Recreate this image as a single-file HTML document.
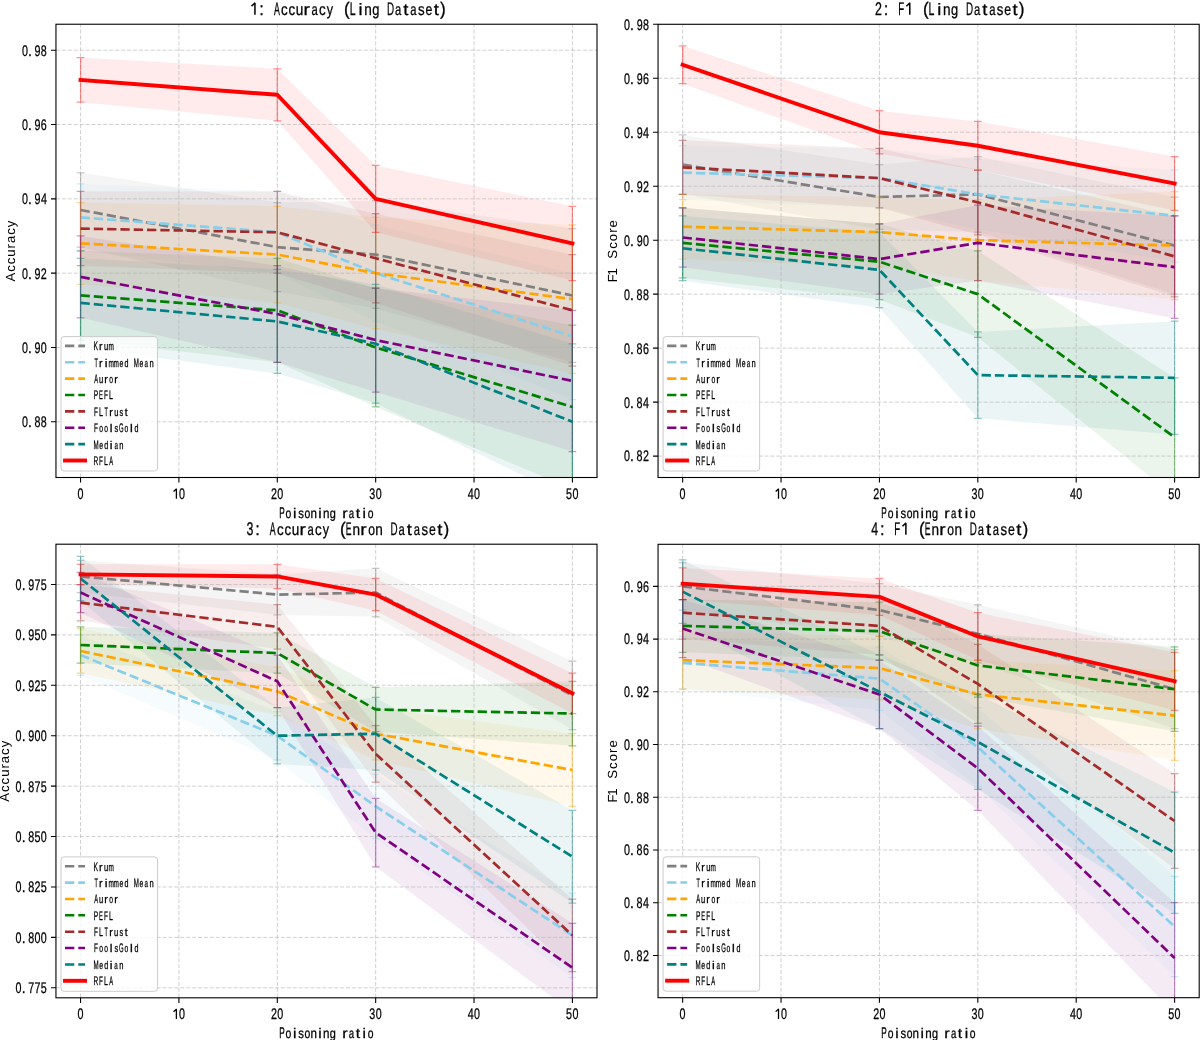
<!DOCTYPE html>
<html><head><meta charset="utf-8"><title>chart</title>
<style>
html,body{margin:0;padding:0;background:#fff;}
svg{display:block;will-change:transform;}
text{font-family:"Liberation Sans",sans-serif;text-rendering:geometricPrecision;}
g.t text{fill:#000;stroke:#000;stroke-width:0.28px;} g.t path{stroke:#000;} tspan.hid{fill:none;stroke:none;}
g.yl text{fill:#000;}
</style></head><body>
<svg width="1200" height="1040" viewBox="0 0 1200 1040">
<rect width="1200" height="1040" fill="#fff"/>
<defs><clipPath id="c1"><rect x="55.96" y="24.23" width="541.04" height="453.27"/></clipPath><clipPath id="c2"><rect x="658.05" y="24.28" width="541.15" height="453.22"/></clipPath><clipPath id="c3"><rect x="55.95" y="544.20" width="541.05" height="453.60"/></clipPath><clipPath id="c4"><rect x="658.05" y="544.30" width="541.15" height="453.40"/></clipPath></defs>
<g clip-path="url(#c1)">
<polygon points="80.55,172.82 277.29,202.55 375.67,200.69 572.41,228.56 572.41,362.34 375.67,308.46 277.29,291.74 80.55,247.14" fill="#808080" fill-opacity="0.080"/>
<polygon points="80.55,183.97 277.29,191.40 375.67,224.85 572.41,273.16 572.41,399.50 375.67,321.47 277.29,273.16 80.55,250.86" fill="#87CEEB" fill-opacity="0.080"/>
<polygon points="80.55,202.55 277.29,206.27 375.67,217.41 572.41,224.85 572.41,373.49 375.67,328.90 277.29,302.88 80.55,284.30" fill="#FFA500" fill-opacity="0.080"/>
<polygon points="80.55,250.86 277.29,258.29 375.67,288.02 572.41,325.18 572.41,488.69 375.67,406.94 277.29,362.34 80.55,340.05" fill="#008000" fill-opacity="0.080"/>
<polygon points="80.55,191.40 277.29,191.40 375.67,213.70 572.41,254.58 572.41,366.06 375.67,302.88 277.29,273.16 80.55,265.72" fill="#A52A2A" fill-opacity="0.080"/>
<polygon points="80.55,235.99 277.29,265.72 375.67,288.02 572.41,310.32 572.41,451.53 375.67,392.07 277.29,362.34 80.55,317.75" fill="#800080" fill-opacity="0.080"/>
<polygon points="80.55,258.29 277.29,269.44 375.67,284.30 572.41,343.76 572.41,499.84 375.67,403.22 277.29,373.49 80.55,347.48" fill="#008080" fill-opacity="0.080"/>
<polygon points="80.55,57.62 277.29,68.77 375.67,165.39 572.41,206.27 572.41,280.59 375.67,232.28 277.29,120.80 80.55,102.22" fill="#FF0000" fill-opacity="0.080"/>
<path d="M80.55 477.50V24.23M178.92 477.50V24.23M277.29 477.50V24.23M375.67 477.50V24.23M474.04 477.50V24.23M572.41 477.50V24.23M55.96 421.80H597.00M55.96 347.48H597.00M55.96 273.16H597.00M55.96 198.83H597.00M55.96 124.51H597.00M55.96 50.19H597.00" stroke="#b0b0b0" stroke-opacity="0.6" stroke-width="1" stroke-dasharray="4.0 1.92" fill="none"/>
<path d="M80.55 172.82V247.14M76.70 172.82H84.40M76.70 247.14H84.40M277.29 202.55V291.74M273.44 202.55H281.14M273.44 291.74H281.14M375.67 200.69V308.46M371.82 200.69H379.52M371.82 308.46H379.52M572.41 228.56V362.34M568.56 228.56H576.26M568.56 362.34H576.26" stroke="#808080" stroke-opacity="0.42" stroke-width="1.25" fill="none"/>
<polyline points="80.55,209.98 277.29,247.14 375.67,254.58 572.41,295.45" stroke="#808080" stroke-width="2.7" fill="none" stroke-linejoin="round" stroke-dasharray="9.3 4.0"/>
<path d="M80.55 183.97V250.86M76.70 183.97H84.40M76.70 250.86H84.40M277.29 191.40V273.16M273.44 191.40H281.14M273.44 273.16H281.14M375.67 224.85V321.47M371.82 224.85H379.52M371.82 321.47H379.52M572.41 273.16V399.50M568.56 273.16H576.26M568.56 399.50H576.26" stroke="#87CEEB" stroke-opacity="0.42" stroke-width="1.25" fill="none"/>
<polyline points="80.55,217.41 277.29,232.28 375.67,273.16 572.41,336.33" stroke="#87CEEB" stroke-width="2.7" fill="none" stroke-linejoin="round" stroke-dasharray="9.3 4.0"/>
<path d="M80.55 202.55V284.30M76.70 202.55H84.40M76.70 284.30H84.40M277.29 206.27V302.88M273.44 206.27H281.14M273.44 302.88H281.14M375.67 217.41V328.90M371.82 217.41H379.52M371.82 328.90H379.52M572.41 224.85V373.49M568.56 224.85H576.26M568.56 373.49H576.26" stroke="#FFA500" stroke-opacity="0.42" stroke-width="1.25" fill="none"/>
<polyline points="80.55,243.43 277.29,254.58 375.67,273.16 572.41,299.17" stroke="#FFA500" stroke-width="2.7" fill="none" stroke-linejoin="round" stroke-dasharray="9.3 4.0"/>
<path d="M80.55 250.86V340.05M76.70 250.86H84.40M76.70 340.05H84.40M277.29 258.29V362.34M273.44 258.29H281.14M273.44 362.34H281.14M375.67 288.02V406.94M371.82 288.02H379.52M371.82 406.94H379.52M572.41 325.18V488.69M568.56 325.18H576.26M568.56 488.69H576.26" stroke="#008000" stroke-opacity="0.42" stroke-width="1.25" fill="none"/>
<polyline points="80.55,295.45 277.29,310.32 375.67,347.48 572.41,406.94" stroke="#008000" stroke-width="2.7" fill="none" stroke-linejoin="round" stroke-dasharray="9.3 4.0"/>
<path d="M80.55 191.40V265.72M76.70 191.40H84.40M76.70 265.72H84.40M277.29 191.40V273.16M273.44 191.40H281.14M273.44 273.16H281.14M375.67 213.70V302.88M371.82 213.70H379.52M371.82 302.88H379.52M572.41 254.58V366.06M568.56 254.58H576.26M568.56 366.06H576.26" stroke="#A52A2A" stroke-opacity="0.42" stroke-width="1.25" fill="none"/>
<polyline points="80.55,228.56 277.29,232.28 375.67,258.29 572.41,310.32" stroke="#A52A2A" stroke-width="2.7" fill="none" stroke-linejoin="round" stroke-dasharray="9.3 4.0"/>
<path d="M80.55 235.99V317.75M76.70 235.99H84.40M76.70 317.75H84.40M277.29 265.72V362.34M273.44 265.72H281.14M273.44 362.34H281.14M375.67 288.02V392.07M371.82 288.02H379.52M371.82 392.07H379.52M572.41 310.32V451.53M568.56 310.32H576.26M568.56 451.53H576.26" stroke="#800080" stroke-opacity="0.42" stroke-width="1.25" fill="none"/>
<polyline points="80.55,276.87 277.29,314.03 375.67,340.05 572.41,380.92" stroke="#800080" stroke-width="2.7" fill="none" stroke-linejoin="round" stroke-dasharray="9.3 4.0"/>
<path d="M80.55 258.29V347.48M76.70 258.29H84.40M76.70 347.48H84.40M277.29 269.44V373.49M273.44 269.44H281.14M273.44 373.49H281.14M375.67 284.30V403.22M371.82 284.30H379.52M371.82 403.22H379.52M572.41 343.76V499.84M568.56 343.76H576.26M568.56 499.84H576.26" stroke="#008080" stroke-opacity="0.42" stroke-width="1.25" fill="none"/>
<polyline points="80.55,302.88 277.29,321.47 375.67,343.76 572.41,421.80" stroke="#008080" stroke-width="2.7" fill="none" stroke-linejoin="round" stroke-dasharray="9.3 4.0"/>
<path d="M80.55 57.62V102.22M76.70 57.62H84.40M76.70 102.22H84.40M277.29 68.77V120.80M273.44 68.77H281.14M273.44 120.80H281.14M375.67 165.39V232.28M371.82 165.39H379.52M371.82 232.28H379.52M572.41 206.27V280.59M568.56 206.27H576.26M568.56 280.59H576.26" stroke="#FF0000" stroke-opacity="0.42" stroke-width="1.25" fill="none"/>
<polyline points="80.55,79.92 277.29,94.78 375.67,198.83 572.41,243.43" stroke="#FF0000" stroke-width="3.9" fill="none" stroke-linejoin="round" stroke-linecap="square"/>
</g>
<rect x="55.96" y="24.23" width="541.04" height="453.27" fill="none" stroke="#000" stroke-width="1.1"/>
<path d="M80.55 477.50v5.1M178.92 477.50v5.1M277.29 477.50v5.1M375.67 477.50v5.1M474.04 477.50v5.1M572.41 477.50v5.1M55.96 421.80h-5.0M55.96 347.48h-5.0M55.96 273.16h-5.0M55.96 198.83h-5.0M55.96 124.51h-5.0M55.96 50.19h-5.0" stroke="#000" stroke-width="1.1" fill="none"/>
<rect x="61.01" y="336.60" width="96.55" height="134.40" rx="3" ry="3" fill="#fff" fill-opacity="0.8" stroke="#cccccc" stroke-opacity="1" stroke-width="1"/>
<path d="M65.01 345.91H85.06" stroke="#808080" stroke-width="2.6" stroke-dasharray="9.3 4.0"/>
<path d="M65.01 362.28H85.06" stroke="#87CEEB" stroke-width="2.6" stroke-dasharray="9.3 4.0"/>
<path d="M65.01 378.65H85.06" stroke="#FFA500" stroke-width="2.6" stroke-dasharray="9.3 4.0"/>
<path d="M65.01 395.02H85.06" stroke="#008000" stroke-width="2.6" stroke-dasharray="9.3 4.0"/>
<path d="M65.01 411.39H85.06" stroke="#A52A2A" stroke-width="2.6" stroke-dasharray="9.3 4.0"/>
<path d="M65.01 427.76H85.06" stroke="#800080" stroke-width="2.6" stroke-dasharray="9.3 4.0"/>
<path d="M65.01 444.13H85.06" stroke="#008080" stroke-width="2.6" stroke-dasharray="9.3 4.0"/>
<path d="M65.01 460.50H85.06" stroke="#FF0000" stroke-width="3.9" stroke-linecap="square"/>
<g class="t"><text y="498.70" font-size="15.36"><tspan x="77.39" textLength="5.98" lengthAdjust="spacingAndGlyphs">0</tspan></text><text y="498.70" font-size="15.36"><tspan x="172.47" textLength="5.98" lengthAdjust="spacingAndGlyphs" class="hid">1</tspan><tspan x="178.92" textLength="5.98" lengthAdjust="spacingAndGlyphs">0</tspan></text><path d="M176.40 498.70V488.67M176.60 488.67L173.55 491.44" stroke-width="1.30" fill="none"/><text y="498.70" font-size="15.36"><tspan x="271.00" textLength="5.98" lengthAdjust="spacingAndGlyphs">2</tspan><tspan x="277.29" textLength="5.98" lengthAdjust="spacingAndGlyphs">0</tspan></text><text y="498.70" font-size="15.36"><tspan x="369.37" textLength="5.98" lengthAdjust="spacingAndGlyphs">3</tspan><tspan x="375.66" textLength="5.98" lengthAdjust="spacingAndGlyphs">0</tspan></text><text y="498.70" font-size="15.36"><tspan x="467.80" textLength="5.98" lengthAdjust="spacingAndGlyphs">4</tspan><tspan x="474.04" textLength="5.98" lengthAdjust="spacingAndGlyphs">0</tspan></text><text y="498.70" font-size="15.36"><tspan x="566.11" textLength="5.98" lengthAdjust="spacingAndGlyphs">5</tspan><tspan x="572.41" textLength="5.98" lengthAdjust="spacingAndGlyphs">0</tspan></text><text y="427.20" font-size="15.36"><tspan x="21.88" textLength="5.98" lengthAdjust="spacingAndGlyphs">0</tspan><tspan x="28.01" textLength="3.84" lengthAdjust="spacingAndGlyphs">.</tspan><tspan x="34.52" textLength="5.98" lengthAdjust="spacingAndGlyphs">8</tspan><tspan x="40.84" textLength="5.98" lengthAdjust="spacingAndGlyphs">8</tspan></text><text y="352.88" font-size="15.36"><tspan x="21.88" textLength="5.98" lengthAdjust="spacingAndGlyphs">0</tspan><tspan x="28.01" textLength="3.84" lengthAdjust="spacingAndGlyphs">.</tspan><tspan x="34.55" textLength="5.98" lengthAdjust="spacingAndGlyphs">9</tspan><tspan x="40.84" textLength="5.98" lengthAdjust="spacingAndGlyphs">0</tspan></text><text y="278.56" font-size="15.36"><tspan x="21.88" textLength="5.98" lengthAdjust="spacingAndGlyphs">0</tspan><tspan x="28.01" textLength="3.84" lengthAdjust="spacingAndGlyphs">.</tspan><tspan x="34.55" textLength="5.98" lengthAdjust="spacingAndGlyphs">9</tspan><tspan x="40.87" textLength="5.98" lengthAdjust="spacingAndGlyphs">2</tspan></text><text y="204.23" font-size="15.36"><tspan x="21.88" textLength="5.98" lengthAdjust="spacingAndGlyphs">0</tspan><tspan x="28.01" textLength="3.84" lengthAdjust="spacingAndGlyphs">.</tspan><tspan x="34.55" textLength="5.98" lengthAdjust="spacingAndGlyphs">9</tspan><tspan x="40.92" textLength="5.98" lengthAdjust="spacingAndGlyphs">4</tspan></text><text y="129.91" font-size="15.36"><tspan x="21.88" textLength="5.98" lengthAdjust="spacingAndGlyphs">0</tspan><tspan x="28.01" textLength="3.84" lengthAdjust="spacingAndGlyphs">.</tspan><tspan x="34.55" textLength="5.98" lengthAdjust="spacingAndGlyphs">9</tspan><tspan x="40.81" textLength="5.98" lengthAdjust="spacingAndGlyphs">6</tspan></text><text y="55.59" font-size="15.36"><tspan x="21.88" textLength="5.98" lengthAdjust="spacingAndGlyphs">0</tspan><tspan x="28.01" textLength="3.84" lengthAdjust="spacingAndGlyphs">.</tspan><tspan x="34.55" textLength="5.98" lengthAdjust="spacingAndGlyphs">9</tspan><tspan x="40.84" textLength="5.98" lengthAdjust="spacingAndGlyphs">8</tspan></text><text y="517.60" font-size="15.51"><tspan x="279.22" textLength="5.52" lengthAdjust="spacingAndGlyphs">P</tspan><tspan x="285.53" textLength="5.77" lengthAdjust="spacingAndGlyphs" font-size="13.96">o</tspan><tspan x="293.02" textLength="3.45" lengthAdjust="spacingAndGlyphs" font-size="13.96">i</tspan><tspan x="298.25" textLength="5.67" lengthAdjust="spacingAndGlyphs" font-size="13.96">s</tspan><tspan x="304.49" textLength="5.77" lengthAdjust="spacingAndGlyphs" font-size="13.96">o</tspan><tspan x="310.47" textLength="6.45" lengthAdjust="spacingAndGlyphs" font-size="13.96">n</tspan><tspan x="318.30" textLength="3.45" lengthAdjust="spacingAndGlyphs" font-size="13.96">i</tspan><tspan x="323.11" textLength="6.45" lengthAdjust="spacingAndGlyphs" font-size="13.96">n</tspan><tspan x="329.75" textLength="6.09" lengthAdjust="spacingAndGlyphs" font-size="13.96">g</tspan><tspan x="335.96" textLength="6.32" lengthAdjust="spacingAndGlyphs"> </tspan><tspan x="342.22" textLength="5.38" lengthAdjust="spacingAndGlyphs" font-size="13.96">r</tspan><tspan x="348.76" textLength="5.32" lengthAdjust="spacingAndGlyphs" font-size="13.96">a</tspan><tspan x="355.67" textLength="4.40" lengthAdjust="spacingAndGlyphs" font-size="13.96">t</tspan><tspan x="362.54" textLength="3.45" lengthAdjust="spacingAndGlyphs" font-size="13.96">i</tspan><tspan x="367.69" textLength="5.77" lengthAdjust="spacingAndGlyphs" font-size="13.96">o</tspan></text><text y="14.78" font-size="18.26"><tspan x="250.40" textLength="6.91" lengthAdjust="spacingAndGlyphs" class="hid">1</tspan><tspan x="259.37" textLength="4.57" lengthAdjust="spacingAndGlyphs">:</tspan><tspan x="265.58" textLength="7.60" lengthAdjust="spacingAndGlyphs"> </tspan><tspan x="273.90" textLength="5.87" lengthAdjust="spacingAndGlyphs">A</tspan><tspan x="281.01" textLength="6.64" lengthAdjust="spacingAndGlyphs" font-size="16.43">c</tspan><tspan x="288.61" textLength="6.64" lengthAdjust="spacingAndGlyphs" font-size="16.43">c</tspan><tspan x="295.86" textLength="7.56" lengthAdjust="spacingAndGlyphs" font-size="16.43">u</tspan><tspan x="303.63" textLength="6.31" lengthAdjust="spacingAndGlyphs" font-size="16.43">r</tspan><tspan x="311.49" textLength="6.24" lengthAdjust="spacingAndGlyphs" font-size="16.43">a</tspan><tspan x="319.01" textLength="6.64" lengthAdjust="spacingAndGlyphs" font-size="16.43">c</tspan><tspan x="326.85" textLength="6.30" lengthAdjust="spacingAndGlyphs" font-size="16.43">y</tspan><tspan x="333.98" textLength="7.60" lengthAdjust="spacingAndGlyphs"> </tspan><tspan x="344.04" textLength="5.73" lengthAdjust="spacingAndGlyphs">(</tspan><tspan x="349.63" textLength="5.89" lengthAdjust="spacingAndGlyphs">L</tspan><tspan x="358.42" textLength="4.06" lengthAdjust="spacingAndGlyphs" font-size="16.43">i</tspan><tspan x="364.26" textLength="7.56" lengthAdjust="spacingAndGlyphs" font-size="16.43">n</tspan><tspan x="372.23" textLength="7.14" lengthAdjust="spacingAndGlyphs" font-size="16.43">g</tspan><tspan x="379.58" textLength="7.60" lengthAdjust="spacingAndGlyphs"> </tspan><tspan x="387.12" textLength="7.10" lengthAdjust="spacingAndGlyphs">D</tspan><tspan x="395.09" textLength="6.24" lengthAdjust="spacingAndGlyphs" font-size="16.43">a</tspan><tspan x="403.38" textLength="5.16" lengthAdjust="spacingAndGlyphs" font-size="16.43">t</tspan><tspan x="410.29" textLength="6.24" lengthAdjust="spacingAndGlyphs" font-size="16.43">a</tspan><tspan x="417.94" textLength="6.64" lengthAdjust="spacingAndGlyphs" font-size="16.43">s</tspan><tspan x="425.45" textLength="6.83" lengthAdjust="spacingAndGlyphs" font-size="16.43">e</tspan><tspan x="433.78" textLength="5.16" lengthAdjust="spacingAndGlyphs" font-size="16.43">t</tspan><tspan x="439.99" textLength="5.73" lengthAdjust="spacingAndGlyphs">)</tspan></text><path d="M254.94 14.78V2.82M255.14 2.82L251.52 6.15" stroke-width="1.50" fill="none"/><text y="350.31" font-size="12.46"><tspan x="93.60" textLength="4.50" lengthAdjust="spacingAndGlyphs">K</tspan><tspan x="99.11" textLength="3.52" lengthAdjust="spacingAndGlyphs" font-size="11.22">r</tspan><tspan x="104.05" textLength="4.22" lengthAdjust="spacingAndGlyphs" font-size="11.22">u</tspan><tspan x="108.51" textLength="5.36" lengthAdjust="spacingAndGlyphs" font-size="11.22">m</tspan></text><text y="366.68" font-size="12.46"><tspan x="94.41" textLength="3.35" lengthAdjust="spacingAndGlyphs">T</tspan><tspan x="99.11" textLength="3.52" lengthAdjust="spacingAndGlyphs" font-size="11.22">r</tspan><tspan x="104.79" textLength="2.77" lengthAdjust="spacingAndGlyphs" font-size="11.22">i</tspan><tspan x="108.51" textLength="5.36" lengthAdjust="spacingAndGlyphs" font-size="11.22">m</tspan><tspan x="113.55" textLength="5.36" lengthAdjust="spacingAndGlyphs" font-size="11.22">m</tspan><tspan x="119.39" textLength="3.82" lengthAdjust="spacingAndGlyphs" font-size="11.22">e</tspan><tspan x="124.42" textLength="3.99" lengthAdjust="spacingAndGlyphs" font-size="11.22">d</tspan><tspan x="128.99" textLength="5.04" lengthAdjust="spacingAndGlyphs"> </tspan><tspan x="133.84" textLength="5.14" lengthAdjust="spacingAndGlyphs">M</tspan><tspan x="139.55" textLength="3.82" lengthAdjust="spacingAndGlyphs" font-size="11.22">e</tspan><tspan x="144.62" textLength="3.48" lengthAdjust="spacingAndGlyphs" font-size="11.22">a</tspan><tspan x="149.41" textLength="4.22" lengthAdjust="spacingAndGlyphs" font-size="11.22">n</tspan></text><text y="383.05" font-size="12.46"><tspan x="94.14" textLength="3.89" lengthAdjust="spacingAndGlyphs">A</tspan><tspan x="99.01" textLength="4.22" lengthAdjust="spacingAndGlyphs" font-size="11.22">u</tspan><tspan x="104.15" textLength="3.52" lengthAdjust="spacingAndGlyphs" font-size="11.22">r</tspan><tspan x="109.32" textLength="3.78" lengthAdjust="spacingAndGlyphs" font-size="11.22">o</tspan><tspan x="114.23" textLength="3.52" lengthAdjust="spacingAndGlyphs" font-size="11.22">r</tspan></text><text y="399.42" font-size="12.46"><tspan x="93.79" textLength="4.40" lengthAdjust="spacingAndGlyphs">P</tspan><tspan x="99.10" textLength="3.82" lengthAdjust="spacingAndGlyphs">E</tspan><tspan x="104.09" textLength="3.90" lengthAdjust="spacingAndGlyphs">F</tspan><tspan x="109.08" textLength="3.91" lengthAdjust="spacingAndGlyphs">L</tspan></text><text y="415.79" font-size="12.46"><tspan x="94.01" textLength="3.90" lengthAdjust="spacingAndGlyphs">F</tspan><tspan x="99.00" textLength="3.91" lengthAdjust="spacingAndGlyphs">L</tspan><tspan x="104.49" textLength="3.35" lengthAdjust="spacingAndGlyphs">T</tspan><tspan x="109.19" textLength="3.52" lengthAdjust="spacingAndGlyphs" font-size="11.22">r</tspan><tspan x="114.13" textLength="4.22" lengthAdjust="spacingAndGlyphs" font-size="11.22">u</tspan><tspan x="119.44" textLength="3.71" lengthAdjust="spacingAndGlyphs" font-size="11.22">s</tspan><tspan x="124.84" textLength="2.88" lengthAdjust="spacingAndGlyphs" font-size="11.22">t</tspan></text><text y="432.16" font-size="12.46"><tspan x="94.01" textLength="3.90" lengthAdjust="spacingAndGlyphs">F</tspan><tspan x="99.24" textLength="3.78" lengthAdjust="spacingAndGlyphs" font-size="11.22">o</tspan><tspan x="104.28" textLength="3.78" lengthAdjust="spacingAndGlyphs" font-size="11.22">o</tspan><tspan x="109.83" textLength="2.77" lengthAdjust="spacingAndGlyphs" font-size="11.22">l</tspan><tspan x="114.40" textLength="3.71" lengthAdjust="spacingAndGlyphs" font-size="11.22">s</tspan><tspan x="119.04" textLength="4.61" lengthAdjust="spacingAndGlyphs">G</tspan><tspan x="124.44" textLength="3.78" lengthAdjust="spacingAndGlyphs" font-size="11.22">o</tspan><tspan x="129.99" textLength="2.77" lengthAdjust="spacingAndGlyphs" font-size="11.22">l</tspan><tspan x="134.50" textLength="3.99" lengthAdjust="spacingAndGlyphs" font-size="11.22">d</tspan></text><text y="448.53" font-size="12.46"><tspan x="93.52" textLength="5.14" lengthAdjust="spacingAndGlyphs">M</tspan><tspan x="99.23" textLength="3.82" lengthAdjust="spacingAndGlyphs" font-size="11.22">e</tspan><tspan x="104.26" textLength="3.99" lengthAdjust="spacingAndGlyphs" font-size="11.22">d</tspan><tspan x="109.83" textLength="2.77" lengthAdjust="spacingAndGlyphs" font-size="11.22">i</tspan><tspan x="114.38" textLength="3.48" lengthAdjust="spacingAndGlyphs" font-size="11.22">a</tspan><tspan x="119.17" textLength="4.22" lengthAdjust="spacingAndGlyphs" font-size="11.22">n</tspan></text><text y="464.90" font-size="12.46"><tspan x="93.62" textLength="4.71" lengthAdjust="spacingAndGlyphs">R</tspan><tspan x="99.05" textLength="3.90" lengthAdjust="spacingAndGlyphs">F</tspan><tspan x="104.04" textLength="3.91" lengthAdjust="spacingAndGlyphs">L</tspan><tspan x="109.26" textLength="3.89" lengthAdjust="spacingAndGlyphs">A</tspan></text></g>
<g class="yl" transform="translate(15.10 281.60) rotate(-90)"><text font-size="13.19" letter-spacing="0.96">Accuracy</text></g>
<g clip-path="url(#c2)">
<polygon points="682.65,134.93 879.43,164.61 977.82,156.52 1174.60,197.00 1174.60,294.15 977.82,232.08 879.43,229.38 682.65,194.30" fill="#808080" fill-opacity="0.080"/>
<polygon points="682.65,145.72 879.43,148.42 977.82,159.22 1174.60,170.01 1174.60,261.77 977.82,229.38 879.43,207.79 682.65,199.70" fill="#87CEEB" fill-opacity="0.080"/>
<polygon points="682.65,194.30 879.43,197.00 977.82,199.70 1174.60,191.60 1174.60,299.55 977.82,280.66 879.43,267.17 682.65,259.07" fill="#FFA500" fill-opacity="0.080"/>
<polygon points="682.65,207.79 879.43,223.99 977.82,250.97 1174.60,377.82 1174.60,496.56 977.82,337.34 879.43,299.55 682.65,277.96" fill="#008000" fill-opacity="0.080"/>
<polygon points="682.65,140.33 879.43,148.42 977.82,170.01 1174.60,215.89 1174.60,296.85 977.82,234.78 879.43,207.79 682.65,194.30" fill="#A52A2A" fill-opacity="0.080"/>
<polygon points="682.65,207.79 879.43,223.99 977.82,205.10 1174.60,215.89 1174.60,318.44 977.82,280.66 879.43,294.15 682.65,267.17" fill="#800080" fill-opacity="0.080"/>
<polygon points="682.65,215.89 879.43,232.08 977.82,331.94 1174.60,321.14 1174.60,434.49 977.82,418.30 879.43,307.65 682.65,280.66" fill="#008080" fill-opacity="0.080"/>
<polygon points="682.65,45.87 879.43,110.64 977.82,121.43 1174.60,156.52 1174.60,210.49 977.82,170.01 879.43,153.82 682.65,83.65" fill="#FF0000" fill-opacity="0.080"/>
<path d="M682.65 477.50V24.28M781.04 477.50V24.28M879.43 477.50V24.28M977.82 477.50V24.28M1076.21 477.50V24.28M1174.60 477.50V24.28M658.05 456.08H1199.20M658.05 402.11H1199.20M658.05 348.13H1199.20M658.05 294.15H1199.20M658.05 240.18H1199.20M658.05 186.20H1199.20M658.05 132.23H1199.20M658.05 78.26H1199.20M658.05 24.28H1199.20" stroke="#b0b0b0" stroke-opacity="0.6" stroke-width="1" stroke-dasharray="4.0 1.92" fill="none"/>
<path d="M682.65 134.93V194.30M678.80 134.93H686.50M678.80 194.30H686.50M879.43 164.61V229.38M875.58 164.61H883.28M875.58 229.38H883.28M977.82 156.52V232.08M973.97 156.52H981.67M973.97 232.08H981.67M1174.60 197.00V294.15M1170.75 197.00H1178.45M1170.75 294.15H1178.45" stroke="#808080" stroke-opacity="0.42" stroke-width="1.25" fill="none"/>
<polyline points="682.65,164.61 879.43,197.00 977.82,194.30 1174.60,245.58" stroke="#808080" stroke-width="2.7" fill="none" stroke-linejoin="round" stroke-dasharray="9.3 4.0"/>
<path d="M682.65 145.72V199.70M678.80 145.72H686.50M678.80 199.70H686.50M879.43 148.42V207.79M875.58 148.42H883.28M875.58 207.79H883.28M977.82 159.22V229.38M973.97 159.22H981.67M973.97 229.38H981.67M1174.60 170.01V261.77M1170.75 170.01H1178.45M1170.75 261.77H1178.45" stroke="#87CEEB" stroke-opacity="0.42" stroke-width="1.25" fill="none"/>
<polyline points="682.65,172.71 879.43,178.11 977.82,194.30 1174.60,215.89" stroke="#87CEEB" stroke-width="2.7" fill="none" stroke-linejoin="round" stroke-dasharray="9.3 4.0"/>
<path d="M682.65 194.30V259.07M678.80 194.30H686.50M678.80 259.07H686.50M879.43 197.00V267.17M875.58 197.00H883.28M875.58 267.17H883.28M977.82 199.70V280.66M973.97 199.70H981.67M973.97 280.66H981.67M1174.60 191.60V299.55M1170.75 191.60H1178.45M1170.75 299.55H1178.45" stroke="#FFA500" stroke-opacity="0.42" stroke-width="1.25" fill="none"/>
<polyline points="682.65,226.69 879.43,232.08 977.82,240.18 1174.60,245.58" stroke="#FFA500" stroke-width="2.7" fill="none" stroke-linejoin="round" stroke-dasharray="9.3 4.0"/>
<path d="M682.65 207.79V277.96M678.80 207.79H686.50M678.80 277.96H686.50M879.43 223.99V299.55M875.58 223.99H883.28M875.58 299.55H883.28M977.82 250.97V337.34M973.97 250.97H981.67M973.97 337.34H981.67M1174.60 377.82V496.56M1170.75 377.82H1178.45M1170.75 496.56H1178.45" stroke="#008000" stroke-opacity="0.42" stroke-width="1.25" fill="none"/>
<polyline points="682.65,242.88 879.43,261.77 977.82,294.15 1174.60,437.19" stroke="#008000" stroke-width="2.7" fill="none" stroke-linejoin="round" stroke-dasharray="9.3 4.0"/>
<path d="M682.65 140.33V194.30M678.80 140.33H686.50M678.80 194.30H686.50M879.43 148.42V207.79M875.58 148.42H883.28M875.58 207.79H883.28M977.82 170.01V234.78M973.97 170.01H981.67M973.97 234.78H981.67M1174.60 215.89V296.85M1170.75 215.89H1178.45M1170.75 296.85H1178.45" stroke="#A52A2A" stroke-opacity="0.42" stroke-width="1.25" fill="none"/>
<polyline points="682.65,167.31 879.43,178.11 977.82,202.40 1174.60,256.37" stroke="#A52A2A" stroke-width="2.7" fill="none" stroke-linejoin="round" stroke-dasharray="9.3 4.0"/>
<path d="M682.65 207.79V267.17M678.80 207.79H686.50M678.80 267.17H686.50M879.43 223.99V294.15M875.58 223.99H883.28M875.58 294.15H883.28M977.82 205.10V280.66M973.97 205.10H981.67M973.97 280.66H981.67M1174.60 215.89V318.44M1170.75 215.89H1178.45M1170.75 318.44H1178.45" stroke="#800080" stroke-opacity="0.42" stroke-width="1.25" fill="none"/>
<polyline points="682.65,237.48 879.43,259.07 977.82,242.88 1174.60,267.17" stroke="#800080" stroke-width="2.7" fill="none" stroke-linejoin="round" stroke-dasharray="9.3 4.0"/>
<path d="M682.65 215.89V280.66M678.80 215.89H686.50M678.80 280.66H686.50M879.43 232.08V307.65M875.58 232.08H883.28M875.58 307.65H883.28M977.82 331.94V418.30M973.97 331.94H981.67M973.97 418.30H981.67M1174.60 321.14V434.49M1170.75 321.14H1178.45M1170.75 434.49H1178.45" stroke="#008080" stroke-opacity="0.42" stroke-width="1.25" fill="none"/>
<polyline points="682.65,248.28 879.43,269.87 977.82,375.12 1174.60,377.82" stroke="#008080" stroke-width="2.7" fill="none" stroke-linejoin="round" stroke-dasharray="9.3 4.0"/>
<path d="M682.65 45.87V83.65M678.80 45.87H686.50M678.80 83.65H686.50M879.43 110.64V153.82M875.58 110.64H883.28M875.58 153.82H883.28M977.82 121.43V170.01M973.97 121.43H981.67M973.97 170.01H981.67M1174.60 156.52V210.49M1170.75 156.52H1178.45M1170.75 210.49H1178.45" stroke="#FF0000" stroke-opacity="0.42" stroke-width="1.25" fill="none"/>
<polyline points="682.65,64.76 879.43,132.23 977.82,145.72 1174.60,183.51" stroke="#FF0000" stroke-width="3.9" fill="none" stroke-linejoin="round" stroke-linecap="square"/>
</g>
<rect x="658.05" y="24.28" width="541.15" height="453.22" fill="none" stroke="#000" stroke-width="1.1"/>
<path d="M682.65 477.50v5.1M781.04 477.50v5.1M879.43 477.50v5.1M977.82 477.50v5.1M1076.21 477.50v5.1M1174.60 477.50v5.1M658.05 456.08h-5.0M658.05 402.11h-5.0M658.05 348.13h-5.0M658.05 294.15h-5.0M658.05 240.18h-5.0M658.05 186.20h-5.0M658.05 132.23h-5.0M658.05 78.26h-5.0M658.05 24.28h-5.0" stroke="#000" stroke-width="1.1" fill="none"/>
<rect x="663.10" y="336.60" width="96.55" height="134.40" rx="3" ry="3" fill="#fff" fill-opacity="0.8" stroke="#cccccc" stroke-opacity="1" stroke-width="1"/>
<path d="M667.10 345.91H687.15" stroke="#808080" stroke-width="2.6" stroke-dasharray="9.3 4.0"/>
<path d="M667.10 362.28H687.15" stroke="#87CEEB" stroke-width="2.6" stroke-dasharray="9.3 4.0"/>
<path d="M667.10 378.65H687.15" stroke="#FFA500" stroke-width="2.6" stroke-dasharray="9.3 4.0"/>
<path d="M667.10 395.02H687.15" stroke="#008000" stroke-width="2.6" stroke-dasharray="9.3 4.0"/>
<path d="M667.10 411.39H687.15" stroke="#A52A2A" stroke-width="2.6" stroke-dasharray="9.3 4.0"/>
<path d="M667.10 427.76H687.15" stroke="#800080" stroke-width="2.6" stroke-dasharray="9.3 4.0"/>
<path d="M667.10 444.13H687.15" stroke="#008080" stroke-width="2.6" stroke-dasharray="9.3 4.0"/>
<path d="M667.10 460.50H687.15" stroke="#FF0000" stroke-width="3.9" stroke-linecap="square"/>
<g class="t"><text y="498.70" font-size="15.36"><tspan x="679.49" textLength="5.98" lengthAdjust="spacingAndGlyphs">0</tspan></text><text y="498.70" font-size="15.36"><tspan x="774.58" textLength="5.98" lengthAdjust="spacingAndGlyphs" class="hid">1</tspan><tspan x="781.04" textLength="5.98" lengthAdjust="spacingAndGlyphs">0</tspan></text><path d="M778.51 498.70V488.67M778.71 488.67L775.67 491.44" stroke-width="1.30" fill="none"/><text y="498.70" font-size="15.36"><tspan x="873.14" textLength="5.98" lengthAdjust="spacingAndGlyphs">2</tspan><tspan x="879.43" textLength="5.98" lengthAdjust="spacingAndGlyphs">0</tspan></text><text y="498.70" font-size="15.36"><tspan x="971.53" textLength="5.98" lengthAdjust="spacingAndGlyphs">3</tspan><tspan x="977.82" textLength="5.98" lengthAdjust="spacingAndGlyphs">0</tspan></text><text y="498.70" font-size="15.36"><tspan x="1069.97" textLength="5.98" lengthAdjust="spacingAndGlyphs">4</tspan><tspan x="1076.21" textLength="5.98" lengthAdjust="spacingAndGlyphs">0</tspan></text><text y="498.70" font-size="15.36"><tspan x="1168.31" textLength="5.98" lengthAdjust="spacingAndGlyphs">5</tspan><tspan x="1174.60" textLength="5.98" lengthAdjust="spacingAndGlyphs">0</tspan></text><text y="461.48" font-size="15.36"><tspan x="623.97" textLength="5.98" lengthAdjust="spacingAndGlyphs">0</tspan><tspan x="630.10" textLength="3.84" lengthAdjust="spacingAndGlyphs">.</tspan><tspan x="636.61" textLength="5.98" lengthAdjust="spacingAndGlyphs">8</tspan><tspan x="642.96" textLength="5.98" lengthAdjust="spacingAndGlyphs">2</tspan></text><text y="407.50" font-size="15.36"><tspan x="623.97" textLength="5.98" lengthAdjust="spacingAndGlyphs">0</tspan><tspan x="630.10" textLength="3.84" lengthAdjust="spacingAndGlyphs">.</tspan><tspan x="636.61" textLength="5.98" lengthAdjust="spacingAndGlyphs">8</tspan><tspan x="643.01" textLength="5.98" lengthAdjust="spacingAndGlyphs">4</tspan></text><text y="353.53" font-size="15.36"><tspan x="623.97" textLength="5.98" lengthAdjust="spacingAndGlyphs">0</tspan><tspan x="630.10" textLength="3.84" lengthAdjust="spacingAndGlyphs">.</tspan><tspan x="636.61" textLength="5.98" lengthAdjust="spacingAndGlyphs">8</tspan><tspan x="642.90" textLength="5.98" lengthAdjust="spacingAndGlyphs">6</tspan></text><text y="299.55" font-size="15.36"><tspan x="623.97" textLength="5.98" lengthAdjust="spacingAndGlyphs">0</tspan><tspan x="630.10" textLength="3.84" lengthAdjust="spacingAndGlyphs">.</tspan><tspan x="636.61" textLength="5.98" lengthAdjust="spacingAndGlyphs">8</tspan><tspan x="642.93" textLength="5.98" lengthAdjust="spacingAndGlyphs">8</tspan></text><text y="245.58" font-size="15.36"><tspan x="623.97" textLength="5.98" lengthAdjust="spacingAndGlyphs">0</tspan><tspan x="630.10" textLength="3.84" lengthAdjust="spacingAndGlyphs">.</tspan><tspan x="636.64" textLength="5.98" lengthAdjust="spacingAndGlyphs">9</tspan><tspan x="642.93" textLength="5.98" lengthAdjust="spacingAndGlyphs">0</tspan></text><text y="191.60" font-size="15.36"><tspan x="623.97" textLength="5.98" lengthAdjust="spacingAndGlyphs">0</tspan><tspan x="630.10" textLength="3.84" lengthAdjust="spacingAndGlyphs">.</tspan><tspan x="636.64" textLength="5.98" lengthAdjust="spacingAndGlyphs">9</tspan><tspan x="642.96" textLength="5.98" lengthAdjust="spacingAndGlyphs">2</tspan></text><text y="137.63" font-size="15.36"><tspan x="623.97" textLength="5.98" lengthAdjust="spacingAndGlyphs">0</tspan><tspan x="630.10" textLength="3.84" lengthAdjust="spacingAndGlyphs">.</tspan><tspan x="636.64" textLength="5.98" lengthAdjust="spacingAndGlyphs">9</tspan><tspan x="643.01" textLength="5.98" lengthAdjust="spacingAndGlyphs">4</tspan></text><text y="83.66" font-size="15.36"><tspan x="623.97" textLength="5.98" lengthAdjust="spacingAndGlyphs">0</tspan><tspan x="630.10" textLength="3.84" lengthAdjust="spacingAndGlyphs">.</tspan><tspan x="636.64" textLength="5.98" lengthAdjust="spacingAndGlyphs">9</tspan><tspan x="642.90" textLength="5.98" lengthAdjust="spacingAndGlyphs">6</tspan></text><text y="29.68" font-size="15.36"><tspan x="623.97" textLength="5.98" lengthAdjust="spacingAndGlyphs">0</tspan><tspan x="630.10" textLength="3.84" lengthAdjust="spacingAndGlyphs">.</tspan><tspan x="636.64" textLength="5.98" lengthAdjust="spacingAndGlyphs">9</tspan><tspan x="642.93" textLength="5.98" lengthAdjust="spacingAndGlyphs">8</tspan></text><text y="517.60" font-size="15.51"><tspan x="881.36" textLength="5.52" lengthAdjust="spacingAndGlyphs">P</tspan><tspan x="887.68" textLength="5.77" lengthAdjust="spacingAndGlyphs" font-size="13.96">o</tspan><tspan x="895.17" textLength="3.45" lengthAdjust="spacingAndGlyphs" font-size="13.96">i</tspan><tspan x="900.39" textLength="5.67" lengthAdjust="spacingAndGlyphs" font-size="13.96">s</tspan><tspan x="906.64" textLength="5.77" lengthAdjust="spacingAndGlyphs" font-size="13.96">o</tspan><tspan x="912.62" textLength="6.45" lengthAdjust="spacingAndGlyphs" font-size="13.96">n</tspan><tspan x="920.45" textLength="3.45" lengthAdjust="spacingAndGlyphs" font-size="13.96">i</tspan><tspan x="925.26" textLength="6.45" lengthAdjust="spacingAndGlyphs" font-size="13.96">n</tspan><tspan x="931.89" textLength="6.09" lengthAdjust="spacingAndGlyphs" font-size="13.96">g</tspan><tspan x="938.11" textLength="6.32" lengthAdjust="spacingAndGlyphs"> </tspan><tspan x="944.36" textLength="5.38" lengthAdjust="spacingAndGlyphs" font-size="13.96">r</tspan><tspan x="950.91" textLength="5.32" lengthAdjust="spacingAndGlyphs" font-size="13.96">a</tspan><tspan x="957.82" textLength="4.40" lengthAdjust="spacingAndGlyphs" font-size="13.96">t</tspan><tspan x="964.69" textLength="3.45" lengthAdjust="spacingAndGlyphs" font-size="13.96">i</tspan><tspan x="969.84" textLength="5.77" lengthAdjust="spacingAndGlyphs" font-size="13.96">o</tspan></text><text y="14.83" font-size="18.26"><tspan x="875.03" textLength="6.91" lengthAdjust="spacingAndGlyphs">2</tspan><tspan x="883.82" textLength="4.57" lengthAdjust="spacingAndGlyphs">:</tspan><tspan x="890.03" textLength="7.60" lengthAdjust="spacingAndGlyphs"> </tspan><tspan x="898.15" textLength="5.87" lengthAdjust="spacingAndGlyphs">F</tspan><tspan x="905.24" textLength="6.91" lengthAdjust="spacingAndGlyphs" class="hid">1</tspan><tspan x="912.83" textLength="7.60" lengthAdjust="spacingAndGlyphs"> </tspan><tspan x="922.89" textLength="5.73" lengthAdjust="spacingAndGlyphs">(</tspan><tspan x="928.47" textLength="5.89" lengthAdjust="spacingAndGlyphs">L</tspan><tspan x="937.27" textLength="4.06" lengthAdjust="spacingAndGlyphs" font-size="16.43">i</tspan><tspan x="943.10" textLength="7.56" lengthAdjust="spacingAndGlyphs" font-size="16.43">n</tspan><tspan x="951.07" textLength="7.14" lengthAdjust="spacingAndGlyphs" font-size="16.43">g</tspan><tspan x="958.43" textLength="7.60" lengthAdjust="spacingAndGlyphs"> </tspan><tspan x="965.96" textLength="7.10" lengthAdjust="spacingAndGlyphs">D</tspan><tspan x="973.94" textLength="6.24" lengthAdjust="spacingAndGlyphs" font-size="16.43">a</tspan><tspan x="982.23" textLength="5.16" lengthAdjust="spacingAndGlyphs" font-size="16.43">t</tspan><tspan x="989.14" textLength="6.24" lengthAdjust="spacingAndGlyphs" font-size="16.43">a</tspan><tspan x="996.79" textLength="6.64" lengthAdjust="spacingAndGlyphs" font-size="16.43">s</tspan><tspan x="1004.30" textLength="6.83" lengthAdjust="spacingAndGlyphs" font-size="16.43">e</tspan><tspan x="1012.63" textLength="5.16" lengthAdjust="spacingAndGlyphs" font-size="16.43">t</tspan><tspan x="1018.83" textLength="5.73" lengthAdjust="spacingAndGlyphs">)</tspan></text><path d="M909.78 14.83V2.87M909.99 2.87L906.37 6.20" stroke-width="1.50" fill="none"/><text y="350.31" font-size="12.46"><tspan x="695.69" textLength="4.50" lengthAdjust="spacingAndGlyphs">K</tspan><tspan x="701.20" textLength="3.52" lengthAdjust="spacingAndGlyphs" font-size="11.22">r</tspan><tspan x="706.14" textLength="4.22" lengthAdjust="spacingAndGlyphs" font-size="11.22">u</tspan><tspan x="710.60" textLength="5.36" lengthAdjust="spacingAndGlyphs" font-size="11.22">m</tspan></text><text y="366.68" font-size="12.46"><tspan x="696.50" textLength="3.35" lengthAdjust="spacingAndGlyphs">T</tspan><tspan x="701.20" textLength="3.52" lengthAdjust="spacingAndGlyphs" font-size="11.22">r</tspan><tspan x="706.88" textLength="2.77" lengthAdjust="spacingAndGlyphs" font-size="11.22">i</tspan><tspan x="710.60" textLength="5.36" lengthAdjust="spacingAndGlyphs" font-size="11.22">m</tspan><tspan x="715.64" textLength="5.36" lengthAdjust="spacingAndGlyphs" font-size="11.22">m</tspan><tspan x="721.48" textLength="3.82" lengthAdjust="spacingAndGlyphs" font-size="11.22">e</tspan><tspan x="726.51" textLength="3.99" lengthAdjust="spacingAndGlyphs" font-size="11.22">d</tspan><tspan x="731.08" textLength="5.04" lengthAdjust="spacingAndGlyphs"> </tspan><tspan x="735.93" textLength="5.14" lengthAdjust="spacingAndGlyphs">M</tspan><tspan x="741.64" textLength="3.82" lengthAdjust="spacingAndGlyphs" font-size="11.22">e</tspan><tspan x="746.71" textLength="3.48" lengthAdjust="spacingAndGlyphs" font-size="11.22">a</tspan><tspan x="751.50" textLength="4.22" lengthAdjust="spacingAndGlyphs" font-size="11.22">n</tspan></text><text y="383.05" font-size="12.46"><tspan x="696.23" textLength="3.89" lengthAdjust="spacingAndGlyphs">A</tspan><tspan x="701.10" textLength="4.22" lengthAdjust="spacingAndGlyphs" font-size="11.22">u</tspan><tspan x="706.24" textLength="3.52" lengthAdjust="spacingAndGlyphs" font-size="11.22">r</tspan><tspan x="711.41" textLength="3.78" lengthAdjust="spacingAndGlyphs" font-size="11.22">o</tspan><tspan x="716.32" textLength="3.52" lengthAdjust="spacingAndGlyphs" font-size="11.22">r</tspan></text><text y="399.42" font-size="12.46"><tspan x="695.88" textLength="4.40" lengthAdjust="spacingAndGlyphs">P</tspan><tspan x="701.19" textLength="3.82" lengthAdjust="spacingAndGlyphs">E</tspan><tspan x="706.18" textLength="3.90" lengthAdjust="spacingAndGlyphs">F</tspan><tspan x="711.17" textLength="3.91" lengthAdjust="spacingAndGlyphs">L</tspan></text><text y="415.79" font-size="12.46"><tspan x="696.10" textLength="3.90" lengthAdjust="spacingAndGlyphs">F</tspan><tspan x="701.09" textLength="3.91" lengthAdjust="spacingAndGlyphs">L</tspan><tspan x="706.58" textLength="3.35" lengthAdjust="spacingAndGlyphs">T</tspan><tspan x="711.28" textLength="3.52" lengthAdjust="spacingAndGlyphs" font-size="11.22">r</tspan><tspan x="716.22" textLength="4.22" lengthAdjust="spacingAndGlyphs" font-size="11.22">u</tspan><tspan x="721.53" textLength="3.71" lengthAdjust="spacingAndGlyphs" font-size="11.22">s</tspan><tspan x="726.93" textLength="2.88" lengthAdjust="spacingAndGlyphs" font-size="11.22">t</tspan></text><text y="432.16" font-size="12.46"><tspan x="696.10" textLength="3.90" lengthAdjust="spacingAndGlyphs">F</tspan><tspan x="701.33" textLength="3.78" lengthAdjust="spacingAndGlyphs" font-size="11.22">o</tspan><tspan x="706.37" textLength="3.78" lengthAdjust="spacingAndGlyphs" font-size="11.22">o</tspan><tspan x="711.92" textLength="2.77" lengthAdjust="spacingAndGlyphs" font-size="11.22">l</tspan><tspan x="716.49" textLength="3.71" lengthAdjust="spacingAndGlyphs" font-size="11.22">s</tspan><tspan x="721.13" textLength="4.61" lengthAdjust="spacingAndGlyphs">G</tspan><tspan x="726.53" textLength="3.78" lengthAdjust="spacingAndGlyphs" font-size="11.22">o</tspan><tspan x="732.08" textLength="2.77" lengthAdjust="spacingAndGlyphs" font-size="11.22">l</tspan><tspan x="736.59" textLength="3.99" lengthAdjust="spacingAndGlyphs" font-size="11.22">d</tspan></text><text y="448.53" font-size="12.46"><tspan x="695.61" textLength="5.14" lengthAdjust="spacingAndGlyphs">M</tspan><tspan x="701.32" textLength="3.82" lengthAdjust="spacingAndGlyphs" font-size="11.22">e</tspan><tspan x="706.35" textLength="3.99" lengthAdjust="spacingAndGlyphs" font-size="11.22">d</tspan><tspan x="711.92" textLength="2.77" lengthAdjust="spacingAndGlyphs" font-size="11.22">i</tspan><tspan x="716.47" textLength="3.48" lengthAdjust="spacingAndGlyphs" font-size="11.22">a</tspan><tspan x="721.26" textLength="4.22" lengthAdjust="spacingAndGlyphs" font-size="11.22">n</tspan></text><text y="464.90" font-size="12.46"><tspan x="695.71" textLength="4.71" lengthAdjust="spacingAndGlyphs">R</tspan><tspan x="701.14" textLength="3.90" lengthAdjust="spacingAndGlyphs">F</tspan><tspan x="706.13" textLength="3.91" lengthAdjust="spacingAndGlyphs">L</tspan><tspan x="711.35" textLength="3.89" lengthAdjust="spacingAndGlyphs">A</tspan></text></g>
<g class="yl" transform="translate(617.25 282.36) rotate(-90)"><text font-size="13.19" letter-spacing="-1.22">F1</text></g>
<g class="yl" transform="translate(617.25 258.69) rotate(-90)"><text font-size="13.19" letter-spacing="1.04">Score</text></g>
<g clip-path="url(#c3)">
<polygon points="80.54,560.30 277.29,574.42 375.66,568.37 572.41,661.13 572.41,729.69 375.66,616.76 277.29,614.75 80.54,592.57" fill="#808080" fill-opacity="0.080"/>
<polygon points="80.54,634.91 277.29,711.54 375.66,774.05 572.41,893.02 572.41,977.72 375.66,838.58 277.29,759.94 80.54,675.24" fill="#87CEEB" fill-opacity="0.080"/>
<polygon points="80.54,628.86 277.29,667.18 375.66,707.51 572.41,733.72 572.41,806.31 375.66,759.94 277.29,715.57 80.54,673.23" fill="#FFA500" fill-opacity="0.080"/>
<polygon points="80.54,626.85 277.29,632.90 375.66,687.34 572.41,681.29 572.41,745.82 375.66,731.70 277.29,673.23 80.54,663.14" fill="#008000" fill-opacity="0.080"/>
<polygon points="80.54,584.50 277.29,604.66 375.66,725.65 572.41,899.07 572.41,971.67 375.66,782.12 277.29,649.03 80.54,620.80" fill="#A52A2A" fill-opacity="0.080"/>
<polygon points="80.54,572.40 277.29,655.08 375.66,798.25 572.41,923.27 572.41,1012.00 375.66,866.81 277.29,707.51 80.54,612.73" fill="#800080" fill-opacity="0.080"/>
<polygon points="80.54,556.27 277.29,707.51 375.66,697.42 572.41,810.35 572.41,903.11 375.66,770.02 277.29,763.97 80.54,600.63" fill="#008080" fill-opacity="0.080"/>
<polygon points="80.54,564.34 277.29,564.34 375.66,578.45 572.41,673.23 572.41,713.56 375.66,610.71 277.29,588.53 80.54,584.50" fill="#FF0000" fill-opacity="0.080"/>
<path d="M80.54 997.80V544.20M178.92 997.80V544.20M277.29 997.80V544.20M375.66 997.80V544.20M474.03 997.80V544.20M572.41 997.80V544.20M55.95 987.80H597.00M55.95 937.39H597.00M55.95 886.98H597.00M55.95 836.56H597.00M55.95 786.15H597.00M55.95 735.74H597.00M55.95 685.32H597.00M55.95 634.91H597.00M55.95 584.50H597.00" stroke="#b0b0b0" stroke-opacity="0.6" stroke-width="1" stroke-dasharray="4.0 1.92" fill="none"/>
<path d="M80.54 560.30V592.57M76.69 560.30H84.39M76.69 592.57H84.39M277.29 574.42V614.75M273.44 574.42H281.14M273.44 614.75H281.14M375.66 568.37V616.76M371.81 568.37H379.51M371.81 616.76H379.51M572.41 661.13V729.69M568.56 661.13H576.26M568.56 729.69H576.26" stroke="#808080" stroke-opacity="0.42" stroke-width="1.25" fill="none"/>
<polyline points="80.54,576.43 277.29,594.58 375.66,592.57 572.41,695.41" stroke="#808080" stroke-width="2.7" fill="none" stroke-linejoin="round" stroke-dasharray="9.3 4.0"/>
<path d="M80.54 634.91V675.24M76.69 634.91H84.39M76.69 675.24H84.39M277.29 711.54V759.94M273.44 711.54H281.14M273.44 759.94H281.14M375.66 774.05V838.58M371.81 774.05H379.51M371.81 838.58H379.51M572.41 893.02V977.72M568.56 893.02H576.26M568.56 977.72H576.26" stroke="#87CEEB" stroke-opacity="0.42" stroke-width="1.25" fill="none"/>
<polyline points="80.54,655.08 277.29,735.74 375.66,806.31 572.41,935.37" stroke="#87CEEB" stroke-width="2.7" fill="none" stroke-linejoin="round" stroke-dasharray="9.3 4.0"/>
<path d="M80.54 628.86V673.23M76.69 628.86H84.39M76.69 673.23H84.39M277.29 667.18V715.57M273.44 667.18H281.14M273.44 715.57H281.14M375.66 707.51V759.94M371.81 707.51H379.51M371.81 759.94H379.51M572.41 733.72V806.31M568.56 733.72H576.26M568.56 806.31H576.26" stroke="#FFA500" stroke-opacity="0.42" stroke-width="1.25" fill="none"/>
<polyline points="80.54,651.04 277.29,691.37 375.66,733.72 572.41,770.02" stroke="#FFA500" stroke-width="2.7" fill="none" stroke-linejoin="round" stroke-dasharray="9.3 4.0"/>
<path d="M80.54 626.85V663.14M76.69 626.85H84.39M76.69 663.14H84.39M277.29 632.90V673.23M273.44 632.90H281.14M273.44 673.23H281.14M375.66 687.34V731.70M371.81 687.34H379.51M371.81 731.70H379.51M572.41 681.29V745.82M568.56 681.29H576.26M568.56 745.82H576.26" stroke="#008000" stroke-opacity="0.42" stroke-width="1.25" fill="none"/>
<polyline points="80.54,645.00 277.29,653.06 375.66,709.52 572.41,713.56" stroke="#008000" stroke-width="2.7" fill="none" stroke-linejoin="round" stroke-dasharray="9.3 4.0"/>
<path d="M80.54 584.50V620.80M76.69 584.50H84.39M76.69 620.80H84.39M277.29 604.66V649.03M273.44 604.66H281.14M273.44 649.03H281.14M375.66 725.65V782.12M371.81 725.65H379.51M371.81 782.12H379.51M572.41 899.07V971.67M568.56 899.07H576.26M568.56 971.67H576.26" stroke="#A52A2A" stroke-opacity="0.42" stroke-width="1.25" fill="none"/>
<polyline points="80.54,602.65 277.29,626.85 375.66,753.89 572.41,935.37" stroke="#A52A2A" stroke-width="2.7" fill="none" stroke-linejoin="round" stroke-dasharray="9.3 4.0"/>
<path d="M80.54 572.40V612.73M76.69 572.40H84.39M76.69 612.73H84.39M277.29 655.08V707.51M273.44 655.08H281.14M273.44 707.51H281.14M375.66 798.25V866.81M371.81 798.25H379.51M371.81 866.81H379.51M572.41 923.27V1012.00M568.56 923.27H576.26M568.56 1012.00H576.26" stroke="#800080" stroke-opacity="0.42" stroke-width="1.25" fill="none"/>
<polyline points="80.54,592.57 277.29,681.29 375.66,832.53 572.41,967.63" stroke="#800080" stroke-width="2.7" fill="none" stroke-linejoin="round" stroke-dasharray="9.3 4.0"/>
<path d="M80.54 556.27V600.63M76.69 556.27H84.39M76.69 600.63H84.39M277.29 707.51V763.97M273.44 707.51H281.14M273.44 763.97H281.14M375.66 697.42V770.02M371.81 697.42H379.51M371.81 770.02H379.51M572.41 810.35V903.11M568.56 810.35H576.26M568.56 903.11H576.26" stroke="#008080" stroke-opacity="0.42" stroke-width="1.25" fill="none"/>
<polyline points="80.54,578.45 277.29,735.74 375.66,733.72 572.41,856.73" stroke="#008080" stroke-width="2.7" fill="none" stroke-linejoin="round" stroke-dasharray="9.3 4.0"/>
<path d="M80.54 564.34V584.50M76.69 564.34H84.39M76.69 584.50H84.39M277.29 564.34V588.53M273.44 564.34H281.14M273.44 588.53H281.14M375.66 578.45V610.71M371.81 578.45H379.51M371.81 610.71H379.51M572.41 673.23V713.56M568.56 673.23H576.26M568.56 713.56H576.26" stroke="#FF0000" stroke-opacity="0.42" stroke-width="1.25" fill="none"/>
<polyline points="80.54,574.42 277.29,576.43 375.66,594.58 572.41,693.39" stroke="#FF0000" stroke-width="3.9" fill="none" stroke-linejoin="round" stroke-linecap="square"/>
</g>
<rect x="55.95" y="544.20" width="541.05" height="453.60" fill="none" stroke="#000" stroke-width="1.1"/>
<path d="M80.54 997.80v5.1M178.92 997.80v5.1M277.29 997.80v5.1M375.66 997.80v5.1M474.03 997.80v5.1M572.41 997.80v5.1M55.95 987.80h-5.0M55.95 937.39h-5.0M55.95 886.98h-5.0M55.95 836.56h-5.0M55.95 786.15h-5.0M55.95 735.74h-5.0M55.95 685.32h-5.0M55.95 634.91h-5.0M55.95 584.50h-5.0" stroke="#000" stroke-width="1.1" fill="none"/>
<rect x="61.00" y="856.90" width="96.55" height="134.40" rx="3" ry="3" fill="#fff" fill-opacity="0.8" stroke="#cccccc" stroke-opacity="1" stroke-width="1"/>
<path d="M65.00 866.21H85.05" stroke="#808080" stroke-width="2.6" stroke-dasharray="9.3 4.0"/>
<path d="M65.00 882.58H85.05" stroke="#87CEEB" stroke-width="2.6" stroke-dasharray="9.3 4.0"/>
<path d="M65.00 898.95H85.05" stroke="#FFA500" stroke-width="2.6" stroke-dasharray="9.3 4.0"/>
<path d="M65.00 915.32H85.05" stroke="#008000" stroke-width="2.6" stroke-dasharray="9.3 4.0"/>
<path d="M65.00 931.69H85.05" stroke="#A52A2A" stroke-width="2.6" stroke-dasharray="9.3 4.0"/>
<path d="M65.00 948.06H85.05" stroke="#800080" stroke-width="2.6" stroke-dasharray="9.3 4.0"/>
<path d="M65.00 964.43H85.05" stroke="#008080" stroke-width="2.6" stroke-dasharray="9.3 4.0"/>
<path d="M65.00 980.80H85.05" stroke="#FF0000" stroke-width="3.9" stroke-linecap="square"/>
<g class="t"><text y="1019.00" font-size="15.36"><tspan x="77.38" textLength="5.98" lengthAdjust="spacingAndGlyphs">0</tspan></text><text y="1019.00" font-size="15.36"><tspan x="172.46" textLength="5.98" lengthAdjust="spacingAndGlyphs" class="hid">1</tspan><tspan x="178.91" textLength="5.98" lengthAdjust="spacingAndGlyphs">0</tspan></text><path d="M176.39 1019.00V1008.97M176.59 1008.97L173.54 1011.74" stroke-width="1.30" fill="none"/><text y="1019.00" font-size="15.36"><tspan x="270.99" textLength="5.98" lengthAdjust="spacingAndGlyphs">2</tspan><tspan x="277.29" textLength="5.98" lengthAdjust="spacingAndGlyphs">0</tspan></text><text y="1019.00" font-size="15.36"><tspan x="369.37" textLength="5.98" lengthAdjust="spacingAndGlyphs">3</tspan><tspan x="375.66" textLength="5.98" lengthAdjust="spacingAndGlyphs">0</tspan></text><text y="1019.00" font-size="15.36"><tspan x="467.79" textLength="5.98" lengthAdjust="spacingAndGlyphs">4</tspan><tspan x="474.03" textLength="5.98" lengthAdjust="spacingAndGlyphs">0</tspan></text><text y="1019.00" font-size="15.36"><tspan x="566.11" textLength="5.98" lengthAdjust="spacingAndGlyphs">5</tspan><tspan x="572.41" textLength="5.98" lengthAdjust="spacingAndGlyphs">0</tspan></text><text y="993.20" font-size="15.36"><tspan x="15.55" textLength="5.98" lengthAdjust="spacingAndGlyphs">0</tspan><tspan x="21.68" textLength="3.84" lengthAdjust="spacingAndGlyphs">.</tspan><tspan x="28.22" textLength="5.98" lengthAdjust="spacingAndGlyphs">7</tspan><tspan x="34.54" textLength="5.98" lengthAdjust="spacingAndGlyphs">7</tspan><tspan x="40.86" textLength="5.98" lengthAdjust="spacingAndGlyphs">5</tspan></text><text y="942.79" font-size="15.36"><tspan x="15.55" textLength="5.98" lengthAdjust="spacingAndGlyphs">0</tspan><tspan x="21.68" textLength="3.84" lengthAdjust="spacingAndGlyphs">.</tspan><tspan x="28.19" textLength="5.98" lengthAdjust="spacingAndGlyphs">8</tspan><tspan x="34.51" textLength="5.98" lengthAdjust="spacingAndGlyphs">0</tspan><tspan x="40.83" textLength="5.98" lengthAdjust="spacingAndGlyphs">0</tspan></text><text y="892.38" font-size="15.36"><tspan x="15.55" textLength="5.98" lengthAdjust="spacingAndGlyphs">0</tspan><tspan x="21.68" textLength="3.84" lengthAdjust="spacingAndGlyphs">.</tspan><tspan x="28.19" textLength="5.98" lengthAdjust="spacingAndGlyphs">8</tspan><tspan x="34.54" textLength="5.98" lengthAdjust="spacingAndGlyphs">2</tspan><tspan x="40.86" textLength="5.98" lengthAdjust="spacingAndGlyphs">5</tspan></text><text y="841.96" font-size="15.36"><tspan x="15.55" textLength="5.98" lengthAdjust="spacingAndGlyphs">0</tspan><tspan x="21.68" textLength="3.84" lengthAdjust="spacingAndGlyphs">.</tspan><tspan x="28.19" textLength="5.98" lengthAdjust="spacingAndGlyphs">8</tspan><tspan x="34.54" textLength="5.98" lengthAdjust="spacingAndGlyphs">5</tspan><tspan x="40.83" textLength="5.98" lengthAdjust="spacingAndGlyphs">0</tspan></text><text y="791.55" font-size="15.36"><tspan x="15.55" textLength="5.98" lengthAdjust="spacingAndGlyphs">0</tspan><tspan x="21.68" textLength="3.84" lengthAdjust="spacingAndGlyphs">.</tspan><tspan x="28.19" textLength="5.98" lengthAdjust="spacingAndGlyphs">8</tspan><tspan x="34.54" textLength="5.98" lengthAdjust="spacingAndGlyphs">7</tspan><tspan x="40.86" textLength="5.98" lengthAdjust="spacingAndGlyphs">5</tspan></text><text y="741.14" font-size="15.36"><tspan x="15.55" textLength="5.98" lengthAdjust="spacingAndGlyphs">0</tspan><tspan x="21.68" textLength="3.84" lengthAdjust="spacingAndGlyphs">.</tspan><tspan x="28.22" textLength="5.98" lengthAdjust="spacingAndGlyphs">9</tspan><tspan x="34.51" textLength="5.98" lengthAdjust="spacingAndGlyphs">0</tspan><tspan x="40.83" textLength="5.98" lengthAdjust="spacingAndGlyphs">0</tspan></text><text y="690.72" font-size="15.36"><tspan x="15.55" textLength="5.98" lengthAdjust="spacingAndGlyphs">0</tspan><tspan x="21.68" textLength="3.84" lengthAdjust="spacingAndGlyphs">.</tspan><tspan x="28.22" textLength="5.98" lengthAdjust="spacingAndGlyphs">9</tspan><tspan x="34.54" textLength="5.98" lengthAdjust="spacingAndGlyphs">2</tspan><tspan x="40.86" textLength="5.98" lengthAdjust="spacingAndGlyphs">5</tspan></text><text y="640.31" font-size="15.36"><tspan x="15.55" textLength="5.98" lengthAdjust="spacingAndGlyphs">0</tspan><tspan x="21.68" textLength="3.84" lengthAdjust="spacingAndGlyphs">.</tspan><tspan x="28.22" textLength="5.98" lengthAdjust="spacingAndGlyphs">9</tspan><tspan x="34.54" textLength="5.98" lengthAdjust="spacingAndGlyphs">5</tspan><tspan x="40.83" textLength="5.98" lengthAdjust="spacingAndGlyphs">0</tspan></text><text y="589.90" font-size="15.36"><tspan x="15.55" textLength="5.98" lengthAdjust="spacingAndGlyphs">0</tspan><tspan x="21.68" textLength="3.84" lengthAdjust="spacingAndGlyphs">.</tspan><tspan x="28.22" textLength="5.98" lengthAdjust="spacingAndGlyphs">9</tspan><tspan x="34.54" textLength="5.98" lengthAdjust="spacingAndGlyphs">7</tspan><tspan x="40.86" textLength="5.98" lengthAdjust="spacingAndGlyphs">5</tspan></text><text y="1037.90" font-size="15.51"><tspan x="279.21" textLength="5.52" lengthAdjust="spacingAndGlyphs">P</tspan><tspan x="285.53" textLength="5.77" lengthAdjust="spacingAndGlyphs" font-size="13.96">o</tspan><tspan x="293.02" textLength="3.45" lengthAdjust="spacingAndGlyphs" font-size="13.96">i</tspan><tspan x="298.24" textLength="5.67" lengthAdjust="spacingAndGlyphs" font-size="13.96">s</tspan><tspan x="304.49" textLength="5.77" lengthAdjust="spacingAndGlyphs" font-size="13.96">o</tspan><tspan x="310.47" textLength="6.45" lengthAdjust="spacingAndGlyphs" font-size="13.96">n</tspan><tspan x="318.30" textLength="3.45" lengthAdjust="spacingAndGlyphs" font-size="13.96">i</tspan><tspan x="323.11" textLength="6.45" lengthAdjust="spacingAndGlyphs" font-size="13.96">n</tspan><tspan x="329.74" textLength="6.09" lengthAdjust="spacingAndGlyphs" font-size="13.96">g</tspan><tspan x="335.96" textLength="6.32" lengthAdjust="spacingAndGlyphs"> </tspan><tspan x="342.21" textLength="5.38" lengthAdjust="spacingAndGlyphs" font-size="13.96">r</tspan><tspan x="348.76" textLength="5.32" lengthAdjust="spacingAndGlyphs" font-size="13.96">a</tspan><tspan x="355.67" textLength="4.40" lengthAdjust="spacingAndGlyphs" font-size="13.96">t</tspan><tspan x="362.54" textLength="3.45" lengthAdjust="spacingAndGlyphs" font-size="13.96">i</tspan><tspan x="367.69" textLength="5.77" lengthAdjust="spacingAndGlyphs" font-size="13.96">o</tspan></text><text y="534.75" font-size="18.26"><tspan x="246.48" textLength="6.91" lengthAdjust="spacingAndGlyphs">3</tspan><tspan x="255.27" textLength="4.57" lengthAdjust="spacingAndGlyphs">:</tspan><tspan x="261.48" textLength="7.60" lengthAdjust="spacingAndGlyphs"> </tspan><tspan x="269.80" textLength="5.87" lengthAdjust="spacingAndGlyphs">A</tspan><tspan x="276.91" textLength="6.64" lengthAdjust="spacingAndGlyphs" font-size="16.43">c</tspan><tspan x="284.51" textLength="6.64" lengthAdjust="spacingAndGlyphs" font-size="16.43">c</tspan><tspan x="291.75" textLength="7.56" lengthAdjust="spacingAndGlyphs" font-size="16.43">u</tspan><tspan x="299.53" textLength="6.31" lengthAdjust="spacingAndGlyphs" font-size="16.43">r</tspan><tspan x="307.39" textLength="6.24" lengthAdjust="spacingAndGlyphs" font-size="16.43">a</tspan><tspan x="314.91" textLength="6.64" lengthAdjust="spacingAndGlyphs" font-size="16.43">c</tspan><tspan x="322.74" textLength="6.30" lengthAdjust="spacingAndGlyphs" font-size="16.43">y</tspan><tspan x="329.88" textLength="7.60" lengthAdjust="spacingAndGlyphs"> </tspan><tspan x="339.94" textLength="5.73" lengthAdjust="spacingAndGlyphs">(</tspan><tspan x="345.68" textLength="5.77" lengthAdjust="spacingAndGlyphs">E</tspan><tspan x="352.55" textLength="7.56" lengthAdjust="spacingAndGlyphs" font-size="16.43">n</tspan><tspan x="360.33" textLength="6.31" lengthAdjust="spacingAndGlyphs" font-size="16.43">r</tspan><tspan x="368.15" textLength="6.76" lengthAdjust="spacingAndGlyphs" font-size="16.43">o</tspan><tspan x="375.35" textLength="7.56" lengthAdjust="spacingAndGlyphs" font-size="16.43">n</tspan><tspan x="383.07" textLength="7.60" lengthAdjust="spacingAndGlyphs"> </tspan><tspan x="390.61" textLength="7.10" lengthAdjust="spacingAndGlyphs">D</tspan><tspan x="398.59" textLength="6.24" lengthAdjust="spacingAndGlyphs" font-size="16.43">a</tspan><tspan x="406.88" textLength="5.16" lengthAdjust="spacingAndGlyphs" font-size="16.43">t</tspan><tspan x="413.79" textLength="6.24" lengthAdjust="spacingAndGlyphs" font-size="16.43">a</tspan><tspan x="421.44" textLength="6.64" lengthAdjust="spacingAndGlyphs" font-size="16.43">s</tspan><tspan x="428.95" textLength="6.83" lengthAdjust="spacingAndGlyphs" font-size="16.43">e</tspan><tspan x="437.28" textLength="5.16" lengthAdjust="spacingAndGlyphs" font-size="16.43">t</tspan><tspan x="443.48" textLength="5.73" lengthAdjust="spacingAndGlyphs">)</tspan></text><text y="870.61" font-size="12.46"><tspan x="93.59" textLength="4.50" lengthAdjust="spacingAndGlyphs">K</tspan><tspan x="99.10" textLength="3.52" lengthAdjust="spacingAndGlyphs" font-size="11.22">r</tspan><tspan x="104.04" textLength="4.22" lengthAdjust="spacingAndGlyphs" font-size="11.22">u</tspan><tspan x="108.50" textLength="5.36" lengthAdjust="spacingAndGlyphs" font-size="11.22">m</tspan></text><text y="886.98" font-size="12.46"><tspan x="94.40" textLength="3.35" lengthAdjust="spacingAndGlyphs">T</tspan><tspan x="99.10" textLength="3.52" lengthAdjust="spacingAndGlyphs" font-size="11.22">r</tspan><tspan x="104.78" textLength="2.77" lengthAdjust="spacingAndGlyphs" font-size="11.22">i</tspan><tspan x="108.50" textLength="5.36" lengthAdjust="spacingAndGlyphs" font-size="11.22">m</tspan><tspan x="113.54" textLength="5.36" lengthAdjust="spacingAndGlyphs" font-size="11.22">m</tspan><tspan x="119.38" textLength="3.82" lengthAdjust="spacingAndGlyphs" font-size="11.22">e</tspan><tspan x="124.41" textLength="3.99" lengthAdjust="spacingAndGlyphs" font-size="11.22">d</tspan><tspan x="128.98" textLength="5.04" lengthAdjust="spacingAndGlyphs"> </tspan><tspan x="133.83" textLength="5.14" lengthAdjust="spacingAndGlyphs">M</tspan><tspan x="139.54" textLength="3.82" lengthAdjust="spacingAndGlyphs" font-size="11.22">e</tspan><tspan x="144.61" textLength="3.48" lengthAdjust="spacingAndGlyphs" font-size="11.22">a</tspan><tspan x="149.40" textLength="4.22" lengthAdjust="spacingAndGlyphs" font-size="11.22">n</tspan></text><text y="903.35" font-size="12.46"><tspan x="94.13" textLength="3.89" lengthAdjust="spacingAndGlyphs">A</tspan><tspan x="99.00" textLength="4.22" lengthAdjust="spacingAndGlyphs" font-size="11.22">u</tspan><tspan x="104.14" textLength="3.52" lengthAdjust="spacingAndGlyphs" font-size="11.22">r</tspan><tspan x="109.31" textLength="3.78" lengthAdjust="spacingAndGlyphs" font-size="11.22">o</tspan><tspan x="114.22" textLength="3.52" lengthAdjust="spacingAndGlyphs" font-size="11.22">r</tspan></text><text y="919.72" font-size="12.46"><tspan x="93.78" textLength="4.40" lengthAdjust="spacingAndGlyphs">P</tspan><tspan x="99.09" textLength="3.82" lengthAdjust="spacingAndGlyphs">E</tspan><tspan x="104.08" textLength="3.90" lengthAdjust="spacingAndGlyphs">F</tspan><tspan x="109.07" textLength="3.91" lengthAdjust="spacingAndGlyphs">L</tspan></text><text y="936.09" font-size="12.46"><tspan x="94.00" textLength="3.90" lengthAdjust="spacingAndGlyphs">F</tspan><tspan x="98.99" textLength="3.91" lengthAdjust="spacingAndGlyphs">L</tspan><tspan x="104.48" textLength="3.35" lengthAdjust="spacingAndGlyphs">T</tspan><tspan x="109.18" textLength="3.52" lengthAdjust="spacingAndGlyphs" font-size="11.22">r</tspan><tspan x="114.12" textLength="4.22" lengthAdjust="spacingAndGlyphs" font-size="11.22">u</tspan><tspan x="119.43" textLength="3.71" lengthAdjust="spacingAndGlyphs" font-size="11.22">s</tspan><tspan x="124.83" textLength="2.88" lengthAdjust="spacingAndGlyphs" font-size="11.22">t</tspan></text><text y="952.46" font-size="12.46"><tspan x="94.00" textLength="3.90" lengthAdjust="spacingAndGlyphs">F</tspan><tspan x="99.23" textLength="3.78" lengthAdjust="spacingAndGlyphs" font-size="11.22">o</tspan><tspan x="104.27" textLength="3.78" lengthAdjust="spacingAndGlyphs" font-size="11.22">o</tspan><tspan x="109.82" textLength="2.77" lengthAdjust="spacingAndGlyphs" font-size="11.22">l</tspan><tspan x="114.39" textLength="3.71" lengthAdjust="spacingAndGlyphs" font-size="11.22">s</tspan><tspan x="119.03" textLength="4.61" lengthAdjust="spacingAndGlyphs">G</tspan><tspan x="124.43" textLength="3.78" lengthAdjust="spacingAndGlyphs" font-size="11.22">o</tspan><tspan x="129.98" textLength="2.77" lengthAdjust="spacingAndGlyphs" font-size="11.22">l</tspan><tspan x="134.49" textLength="3.99" lengthAdjust="spacingAndGlyphs" font-size="11.22">d</tspan></text><text y="968.83" font-size="12.46"><tspan x="93.51" textLength="5.14" lengthAdjust="spacingAndGlyphs">M</tspan><tspan x="99.22" textLength="3.82" lengthAdjust="spacingAndGlyphs" font-size="11.22">e</tspan><tspan x="104.25" textLength="3.99" lengthAdjust="spacingAndGlyphs" font-size="11.22">d</tspan><tspan x="109.82" textLength="2.77" lengthAdjust="spacingAndGlyphs" font-size="11.22">i</tspan><tspan x="114.37" textLength="3.48" lengthAdjust="spacingAndGlyphs" font-size="11.22">a</tspan><tspan x="119.16" textLength="4.22" lengthAdjust="spacingAndGlyphs" font-size="11.22">n</tspan></text><text y="985.20" font-size="12.46"><tspan x="93.61" textLength="4.71" lengthAdjust="spacingAndGlyphs">R</tspan><tspan x="99.04" textLength="3.90" lengthAdjust="spacingAndGlyphs">F</tspan><tspan x="104.03" textLength="3.91" lengthAdjust="spacingAndGlyphs">L</tspan><tspan x="109.25" textLength="3.89" lengthAdjust="spacingAndGlyphs">A</tspan></text></g>
<g class="yl" transform="translate(8.80 801.73) rotate(-90)"><text font-size="13.19" letter-spacing="0.96">Accuracy</text></g>
<g clip-path="url(#c4)">
<polygon points="682.65,562.62 879.43,583.71 977.82,604.81 1174.60,649.63 1174.60,728.72 977.82,662.81 879.43,636.44 682.65,610.08" fill="#808080" fill-opacity="0.080"/>
<polygon points="682.65,636.44 879.43,646.99 977.82,707.63 1174.60,876.37 1174.60,976.55 977.82,786.72 879.43,710.27 682.65,689.17" fill="#87CEEB" fill-opacity="0.080"/>
<polygon points="682.65,631.17 879.43,636.44 977.82,660.17 1174.60,670.72 1174.60,760.36 977.82,728.72 879.43,699.72 682.65,689.17" fill="#FFA500" fill-opacity="0.080"/>
<polygon points="682.65,599.53 879.43,602.17 977.82,633.81 1174.60,646.99 1174.60,731.36 977.82,697.08 879.43,660.17 682.65,652.26" fill="#008000" fill-opacity="0.080"/>
<polygon points="682.65,586.35 879.43,596.90 977.82,644.35 1174.60,773.54 1174.60,868.46 977.82,723.45 879.43,654.90 682.65,639.08" fill="#A52A2A" fill-opacity="0.080"/>
<polygon points="682.65,599.53 879.43,660.17 977.82,726.08 1174.60,902.73 1174.60,1013.46 977.82,810.45 879.43,728.72 682.65,657.54" fill="#800080" fill-opacity="0.080"/>
<polygon points="682.65,559.99 879.43,654.90 977.82,694.45 1174.60,792.00 1174.60,913.28 977.82,789.36 879.43,728.72 682.65,623.26" fill="#008080" fill-opacity="0.080"/>
<polygon points="682.65,567.89 879.43,578.44 977.82,612.72 1174.60,652.26 1174.60,710.27 977.82,660.17 879.43,615.35 682.65,599.53" fill="#FF0000" fill-opacity="0.080"/>
<path d="M682.65 997.70V544.30M781.04 997.70V544.30M879.43 997.70V544.30M977.82 997.70V544.30M1076.21 997.70V544.30M1174.60 997.70V544.30M658.05 955.46H1199.20M658.05 902.73H1199.20M658.05 850.00H1199.20M658.05 797.27H1199.20M658.05 744.54H1199.20M658.05 691.81H1199.20M658.05 639.08H1199.20M658.05 586.35H1199.20" stroke="#b0b0b0" stroke-opacity="0.6" stroke-width="1" stroke-dasharray="4.0 1.92" fill="none"/>
<path d="M682.65 562.62V610.08M678.80 562.62H686.50M678.80 610.08H686.50M879.43 583.71V636.44M875.58 583.71H883.28M875.58 636.44H883.28M977.82 604.81V662.81M973.97 604.81H981.67M973.97 662.81H981.67M1174.60 649.63V728.72M1170.75 649.63H1178.45M1170.75 728.72H1178.45" stroke="#808080" stroke-opacity="0.42" stroke-width="1.25" fill="none"/>
<polyline points="682.65,586.35 879.43,610.08 977.82,633.81 1174.60,689.17" stroke="#808080" stroke-width="2.7" fill="none" stroke-linejoin="round" stroke-dasharray="9.3 4.0"/>
<path d="M682.65 636.44V689.17M678.80 636.44H686.50M678.80 689.17H686.50M879.43 646.99V710.27M875.58 646.99H883.28M875.58 710.27H883.28M977.82 707.63V786.72M973.97 707.63H981.67M973.97 786.72H981.67M1174.60 876.37V976.55M1170.75 876.37H1178.45M1170.75 976.55H1178.45" stroke="#87CEEB" stroke-opacity="0.42" stroke-width="1.25" fill="none"/>
<polyline points="682.65,662.81 879.43,678.63 977.82,747.18 1174.60,926.46" stroke="#87CEEB" stroke-width="2.7" fill="none" stroke-linejoin="round" stroke-dasharray="9.3 4.0"/>
<path d="M682.65 631.17V689.17M678.80 631.17H686.50M678.80 689.17H686.50M879.43 636.44V699.72M875.58 636.44H883.28M875.58 699.72H883.28M977.82 660.17V728.72M973.97 660.17H981.67M973.97 728.72H981.67M1174.60 670.72V760.36M1170.75 670.72H1178.45M1170.75 760.36H1178.45" stroke="#FFA500" stroke-opacity="0.42" stroke-width="1.25" fill="none"/>
<polyline points="682.65,660.17 879.43,668.08 977.82,694.45 1174.60,715.54" stroke="#FFA500" stroke-width="2.7" fill="none" stroke-linejoin="round" stroke-dasharray="9.3 4.0"/>
<path d="M682.65 599.53V652.26M678.80 599.53H686.50M678.80 652.26H686.50M879.43 602.17V660.17M875.58 602.17H883.28M875.58 660.17H883.28M977.82 633.81V697.08M973.97 633.81H981.67M973.97 697.08H981.67M1174.60 646.99V731.36M1170.75 646.99H1178.45M1170.75 731.36H1178.45" stroke="#008000" stroke-opacity="0.42" stroke-width="1.25" fill="none"/>
<polyline points="682.65,625.90 879.43,631.17 977.82,665.44 1174.60,689.17" stroke="#008000" stroke-width="2.7" fill="none" stroke-linejoin="round" stroke-dasharray="9.3 4.0"/>
<path d="M682.65 586.35V639.08M678.80 586.35H686.50M678.80 639.08H686.50M879.43 596.90V654.90M875.58 596.90H883.28M875.58 654.90H883.28M977.82 644.35V723.45M973.97 644.35H981.67M973.97 723.45H981.67M1174.60 773.54V868.46M1170.75 773.54H1178.45M1170.75 868.46H1178.45" stroke="#A52A2A" stroke-opacity="0.42" stroke-width="1.25" fill="none"/>
<polyline points="682.65,612.72 879.43,625.90 977.82,683.90 1174.60,821.00" stroke="#A52A2A" stroke-width="2.7" fill="none" stroke-linejoin="round" stroke-dasharray="9.3 4.0"/>
<path d="M682.65 599.53V657.54M678.80 599.53H686.50M678.80 657.54H686.50M879.43 660.17V728.72M875.58 660.17H883.28M875.58 728.72H883.28M977.82 726.08V810.45M973.97 726.08H981.67M973.97 810.45H981.67M1174.60 902.73V1013.46M1170.75 902.73H1178.45M1170.75 1013.46H1178.45" stroke="#800080" stroke-opacity="0.42" stroke-width="1.25" fill="none"/>
<polyline points="682.65,628.53 879.43,694.45 977.82,768.27 1174.60,958.10" stroke="#800080" stroke-width="2.7" fill="none" stroke-linejoin="round" stroke-dasharray="9.3 4.0"/>
<path d="M682.65 559.99V623.26M678.80 559.99H686.50M678.80 623.26H686.50M879.43 654.90V728.72M875.58 654.90H883.28M875.58 728.72H883.28M977.82 694.45V789.36M973.97 694.45H981.67M973.97 789.36H981.67M1174.60 792.00V913.28M1170.75 792.00H1178.45M1170.75 913.28H1178.45" stroke="#008080" stroke-opacity="0.42" stroke-width="1.25" fill="none"/>
<polyline points="682.65,591.62 879.43,691.81 977.82,741.90 1174.60,852.64" stroke="#008080" stroke-width="2.7" fill="none" stroke-linejoin="round" stroke-dasharray="9.3 4.0"/>
<path d="M682.65 567.89V599.53M678.80 567.89H686.50M678.80 599.53H686.50M879.43 578.44V615.35M875.58 578.44H883.28M875.58 615.35H883.28M977.82 612.72V660.17M973.97 612.72H981.67M973.97 660.17H981.67M1174.60 652.26V710.27M1170.75 652.26H1178.45M1170.75 710.27H1178.45" stroke="#FF0000" stroke-opacity="0.42" stroke-width="1.25" fill="none"/>
<polyline points="682.65,583.71 879.43,596.90 977.82,636.44 1174.60,681.26" stroke="#FF0000" stroke-width="3.9" fill="none" stroke-linejoin="round" stroke-linecap="square"/>
</g>
<rect x="658.05" y="544.30" width="541.15" height="453.40" fill="none" stroke="#000" stroke-width="1.1"/>
<path d="M682.65 997.70v5.1M781.04 997.70v5.1M879.43 997.70v5.1M977.82 997.70v5.1M1076.21 997.70v5.1M1174.60 997.70v5.1M658.05 955.46h-5.0M658.05 902.73h-5.0M658.05 850.00h-5.0M658.05 797.27h-5.0M658.05 744.54h-5.0M658.05 691.81h-5.0M658.05 639.08h-5.0M658.05 586.35h-5.0" stroke="#000" stroke-width="1.1" fill="none"/>
<rect x="663.10" y="856.80" width="96.55" height="134.40" rx="3" ry="3" fill="#fff" fill-opacity="0.8" stroke="#cccccc" stroke-opacity="1" stroke-width="1"/>
<path d="M667.10 866.11H687.15" stroke="#808080" stroke-width="2.6" stroke-dasharray="9.3 4.0"/>
<path d="M667.10 882.48H687.15" stroke="#87CEEB" stroke-width="2.6" stroke-dasharray="9.3 4.0"/>
<path d="M667.10 898.85H687.15" stroke="#FFA500" stroke-width="2.6" stroke-dasharray="9.3 4.0"/>
<path d="M667.10 915.22H687.15" stroke="#008000" stroke-width="2.6" stroke-dasharray="9.3 4.0"/>
<path d="M667.10 931.59H687.15" stroke="#A52A2A" stroke-width="2.6" stroke-dasharray="9.3 4.0"/>
<path d="M667.10 947.96H687.15" stroke="#800080" stroke-width="2.6" stroke-dasharray="9.3 4.0"/>
<path d="M667.10 964.33H687.15" stroke="#008080" stroke-width="2.6" stroke-dasharray="9.3 4.0"/>
<path d="M667.10 980.70H687.15" stroke="#FF0000" stroke-width="3.9" stroke-linecap="square"/>
<g class="t"><text y="1018.90" font-size="15.36"><tspan x="679.49" textLength="5.98" lengthAdjust="spacingAndGlyphs">0</tspan></text><text y="1018.90" font-size="15.36"><tspan x="774.58" textLength="5.98" lengthAdjust="spacingAndGlyphs" class="hid">1</tspan><tspan x="781.04" textLength="5.98" lengthAdjust="spacingAndGlyphs">0</tspan></text><path d="M778.51 1018.90V1008.87M778.71 1008.87L775.67 1011.64" stroke-width="1.30" fill="none"/><text y="1018.90" font-size="15.36"><tspan x="873.14" textLength="5.98" lengthAdjust="spacingAndGlyphs">2</tspan><tspan x="879.43" textLength="5.98" lengthAdjust="spacingAndGlyphs">0</tspan></text><text y="1018.90" font-size="15.36"><tspan x="971.53" textLength="5.98" lengthAdjust="spacingAndGlyphs">3</tspan><tspan x="977.82" textLength="5.98" lengthAdjust="spacingAndGlyphs">0</tspan></text><text y="1018.90" font-size="15.36"><tspan x="1069.97" textLength="5.98" lengthAdjust="spacingAndGlyphs">4</tspan><tspan x="1076.21" textLength="5.98" lengthAdjust="spacingAndGlyphs">0</tspan></text><text y="1018.90" font-size="15.36"><tspan x="1168.31" textLength="5.98" lengthAdjust="spacingAndGlyphs">5</tspan><tspan x="1174.60" textLength="5.98" lengthAdjust="spacingAndGlyphs">0</tspan></text><text y="960.86" font-size="15.36"><tspan x="623.97" textLength="5.98" lengthAdjust="spacingAndGlyphs">0</tspan><tspan x="630.10" textLength="3.84" lengthAdjust="spacingAndGlyphs">.</tspan><tspan x="636.61" textLength="5.98" lengthAdjust="spacingAndGlyphs">8</tspan><tspan x="642.96" textLength="5.98" lengthAdjust="spacingAndGlyphs">2</tspan></text><text y="908.13" font-size="15.36"><tspan x="623.97" textLength="5.98" lengthAdjust="spacingAndGlyphs">0</tspan><tspan x="630.10" textLength="3.84" lengthAdjust="spacingAndGlyphs">.</tspan><tspan x="636.61" textLength="5.98" lengthAdjust="spacingAndGlyphs">8</tspan><tspan x="643.01" textLength="5.98" lengthAdjust="spacingAndGlyphs">4</tspan></text><text y="855.40" font-size="15.36"><tspan x="623.97" textLength="5.98" lengthAdjust="spacingAndGlyphs">0</tspan><tspan x="630.10" textLength="3.84" lengthAdjust="spacingAndGlyphs">.</tspan><tspan x="636.61" textLength="5.98" lengthAdjust="spacingAndGlyphs">8</tspan><tspan x="642.90" textLength="5.98" lengthAdjust="spacingAndGlyphs">6</tspan></text><text y="802.67" font-size="15.36"><tspan x="623.97" textLength="5.98" lengthAdjust="spacingAndGlyphs">0</tspan><tspan x="630.10" textLength="3.84" lengthAdjust="spacingAndGlyphs">.</tspan><tspan x="636.61" textLength="5.98" lengthAdjust="spacingAndGlyphs">8</tspan><tspan x="642.93" textLength="5.98" lengthAdjust="spacingAndGlyphs">8</tspan></text><text y="749.94" font-size="15.36"><tspan x="623.97" textLength="5.98" lengthAdjust="spacingAndGlyphs">0</tspan><tspan x="630.10" textLength="3.84" lengthAdjust="spacingAndGlyphs">.</tspan><tspan x="636.64" textLength="5.98" lengthAdjust="spacingAndGlyphs">9</tspan><tspan x="642.93" textLength="5.98" lengthAdjust="spacingAndGlyphs">0</tspan></text><text y="697.21" font-size="15.36"><tspan x="623.97" textLength="5.98" lengthAdjust="spacingAndGlyphs">0</tspan><tspan x="630.10" textLength="3.84" lengthAdjust="spacingAndGlyphs">.</tspan><tspan x="636.64" textLength="5.98" lengthAdjust="spacingAndGlyphs">9</tspan><tspan x="642.96" textLength="5.98" lengthAdjust="spacingAndGlyphs">2</tspan></text><text y="644.48" font-size="15.36"><tspan x="623.97" textLength="5.98" lengthAdjust="spacingAndGlyphs">0</tspan><tspan x="630.10" textLength="3.84" lengthAdjust="spacingAndGlyphs">.</tspan><tspan x="636.64" textLength="5.98" lengthAdjust="spacingAndGlyphs">9</tspan><tspan x="643.01" textLength="5.98" lengthAdjust="spacingAndGlyphs">4</tspan></text><text y="591.75" font-size="15.36"><tspan x="623.97" textLength="5.98" lengthAdjust="spacingAndGlyphs">0</tspan><tspan x="630.10" textLength="3.84" lengthAdjust="spacingAndGlyphs">.</tspan><tspan x="636.64" textLength="5.98" lengthAdjust="spacingAndGlyphs">9</tspan><tspan x="642.90" textLength="5.98" lengthAdjust="spacingAndGlyphs">6</tspan></text><text y="1037.80" font-size="15.51"><tspan x="881.36" textLength="5.52" lengthAdjust="spacingAndGlyphs">P</tspan><tspan x="887.68" textLength="5.77" lengthAdjust="spacingAndGlyphs" font-size="13.96">o</tspan><tspan x="895.17" textLength="3.45" lengthAdjust="spacingAndGlyphs" font-size="13.96">i</tspan><tspan x="900.39" textLength="5.67" lengthAdjust="spacingAndGlyphs" font-size="13.96">s</tspan><tspan x="906.64" textLength="5.77" lengthAdjust="spacingAndGlyphs" font-size="13.96">o</tspan><tspan x="912.62" textLength="6.45" lengthAdjust="spacingAndGlyphs" font-size="13.96">n</tspan><tspan x="920.45" textLength="3.45" lengthAdjust="spacingAndGlyphs" font-size="13.96">i</tspan><tspan x="925.26" textLength="6.45" lengthAdjust="spacingAndGlyphs" font-size="13.96">n</tspan><tspan x="931.89" textLength="6.09" lengthAdjust="spacingAndGlyphs" font-size="13.96">g</tspan><tspan x="938.11" textLength="6.32" lengthAdjust="spacingAndGlyphs"> </tspan><tspan x="944.36" textLength="5.38" lengthAdjust="spacingAndGlyphs" font-size="13.96">r</tspan><tspan x="950.91" textLength="5.32" lengthAdjust="spacingAndGlyphs" font-size="13.96">a</tspan><tspan x="957.82" textLength="4.40" lengthAdjust="spacingAndGlyphs" font-size="13.96">t</tspan><tspan x="964.69" textLength="3.45" lengthAdjust="spacingAndGlyphs" font-size="13.96">i</tspan><tspan x="969.84" textLength="5.77" lengthAdjust="spacingAndGlyphs" font-size="13.96">o</tspan></text><text y="534.85" font-size="18.26"><tspan x="871.19" textLength="6.91" lengthAdjust="spacingAndGlyphs">4</tspan><tspan x="879.92" textLength="4.57" lengthAdjust="spacingAndGlyphs">:</tspan><tspan x="886.13" textLength="7.60" lengthAdjust="spacingAndGlyphs"> </tspan><tspan x="894.25" textLength="5.87" lengthAdjust="spacingAndGlyphs">F</tspan><tspan x="901.34" textLength="6.91" lengthAdjust="spacingAndGlyphs" class="hid">1</tspan><tspan x="908.93" textLength="7.60" lengthAdjust="spacingAndGlyphs"> </tspan><tspan x="918.99" textLength="5.73" lengthAdjust="spacingAndGlyphs">(</tspan><tspan x="924.73" textLength="5.77" lengthAdjust="spacingAndGlyphs">E</tspan><tspan x="931.60" textLength="7.56" lengthAdjust="spacingAndGlyphs" font-size="16.43">n</tspan><tspan x="939.38" textLength="6.31" lengthAdjust="spacingAndGlyphs" font-size="16.43">r</tspan><tspan x="947.20" textLength="6.76" lengthAdjust="spacingAndGlyphs" font-size="16.43">o</tspan><tspan x="954.40" textLength="7.56" lengthAdjust="spacingAndGlyphs" font-size="16.43">n</tspan><tspan x="962.12" textLength="7.60" lengthAdjust="spacingAndGlyphs"> </tspan><tspan x="969.66" textLength="7.10" lengthAdjust="spacingAndGlyphs">D</tspan><tspan x="977.64" textLength="6.24" lengthAdjust="spacingAndGlyphs" font-size="16.43">a</tspan><tspan x="985.93" textLength="5.16" lengthAdjust="spacingAndGlyphs" font-size="16.43">t</tspan><tspan x="992.84" textLength="6.24" lengthAdjust="spacingAndGlyphs" font-size="16.43">a</tspan><tspan x="1000.49" textLength="6.64" lengthAdjust="spacingAndGlyphs" font-size="16.43">s</tspan><tspan x="1008.00" textLength="6.83" lengthAdjust="spacingAndGlyphs" font-size="16.43">e</tspan><tspan x="1016.33" textLength="5.16" lengthAdjust="spacingAndGlyphs" font-size="16.43">t</tspan><tspan x="1022.53" textLength="5.73" lengthAdjust="spacingAndGlyphs">)</tspan></text><path d="M905.88 534.85V522.89M906.09 522.89L902.47 526.22" stroke-width="1.50" fill="none"/><text y="870.51" font-size="12.46"><tspan x="695.69" textLength="4.50" lengthAdjust="spacingAndGlyphs">K</tspan><tspan x="701.20" textLength="3.52" lengthAdjust="spacingAndGlyphs" font-size="11.22">r</tspan><tspan x="706.14" textLength="4.22" lengthAdjust="spacingAndGlyphs" font-size="11.22">u</tspan><tspan x="710.60" textLength="5.36" lengthAdjust="spacingAndGlyphs" font-size="11.22">m</tspan></text><text y="886.88" font-size="12.46"><tspan x="696.50" textLength="3.35" lengthAdjust="spacingAndGlyphs">T</tspan><tspan x="701.20" textLength="3.52" lengthAdjust="spacingAndGlyphs" font-size="11.22">r</tspan><tspan x="706.88" textLength="2.77" lengthAdjust="spacingAndGlyphs" font-size="11.22">i</tspan><tspan x="710.60" textLength="5.36" lengthAdjust="spacingAndGlyphs" font-size="11.22">m</tspan><tspan x="715.64" textLength="5.36" lengthAdjust="spacingAndGlyphs" font-size="11.22">m</tspan><tspan x="721.48" textLength="3.82" lengthAdjust="spacingAndGlyphs" font-size="11.22">e</tspan><tspan x="726.51" textLength="3.99" lengthAdjust="spacingAndGlyphs" font-size="11.22">d</tspan><tspan x="731.08" textLength="5.04" lengthAdjust="spacingAndGlyphs"> </tspan><tspan x="735.93" textLength="5.14" lengthAdjust="spacingAndGlyphs">M</tspan><tspan x="741.64" textLength="3.82" lengthAdjust="spacingAndGlyphs" font-size="11.22">e</tspan><tspan x="746.71" textLength="3.48" lengthAdjust="spacingAndGlyphs" font-size="11.22">a</tspan><tspan x="751.50" textLength="4.22" lengthAdjust="spacingAndGlyphs" font-size="11.22">n</tspan></text><text y="903.25" font-size="12.46"><tspan x="696.23" textLength="3.89" lengthAdjust="spacingAndGlyphs">A</tspan><tspan x="701.10" textLength="4.22" lengthAdjust="spacingAndGlyphs" font-size="11.22">u</tspan><tspan x="706.24" textLength="3.52" lengthAdjust="spacingAndGlyphs" font-size="11.22">r</tspan><tspan x="711.41" textLength="3.78" lengthAdjust="spacingAndGlyphs" font-size="11.22">o</tspan><tspan x="716.32" textLength="3.52" lengthAdjust="spacingAndGlyphs" font-size="11.22">r</tspan></text><text y="919.62" font-size="12.46"><tspan x="695.88" textLength="4.40" lengthAdjust="spacingAndGlyphs">P</tspan><tspan x="701.19" textLength="3.82" lengthAdjust="spacingAndGlyphs">E</tspan><tspan x="706.18" textLength="3.90" lengthAdjust="spacingAndGlyphs">F</tspan><tspan x="711.17" textLength="3.91" lengthAdjust="spacingAndGlyphs">L</tspan></text><text y="935.99" font-size="12.46"><tspan x="696.10" textLength="3.90" lengthAdjust="spacingAndGlyphs">F</tspan><tspan x="701.09" textLength="3.91" lengthAdjust="spacingAndGlyphs">L</tspan><tspan x="706.58" textLength="3.35" lengthAdjust="spacingAndGlyphs">T</tspan><tspan x="711.28" textLength="3.52" lengthAdjust="spacingAndGlyphs" font-size="11.22">r</tspan><tspan x="716.22" textLength="4.22" lengthAdjust="spacingAndGlyphs" font-size="11.22">u</tspan><tspan x="721.53" textLength="3.71" lengthAdjust="spacingAndGlyphs" font-size="11.22">s</tspan><tspan x="726.93" textLength="2.88" lengthAdjust="spacingAndGlyphs" font-size="11.22">t</tspan></text><text y="952.36" font-size="12.46"><tspan x="696.10" textLength="3.90" lengthAdjust="spacingAndGlyphs">F</tspan><tspan x="701.33" textLength="3.78" lengthAdjust="spacingAndGlyphs" font-size="11.22">o</tspan><tspan x="706.37" textLength="3.78" lengthAdjust="spacingAndGlyphs" font-size="11.22">o</tspan><tspan x="711.92" textLength="2.77" lengthAdjust="spacingAndGlyphs" font-size="11.22">l</tspan><tspan x="716.49" textLength="3.71" lengthAdjust="spacingAndGlyphs" font-size="11.22">s</tspan><tspan x="721.13" textLength="4.61" lengthAdjust="spacingAndGlyphs">G</tspan><tspan x="726.53" textLength="3.78" lengthAdjust="spacingAndGlyphs" font-size="11.22">o</tspan><tspan x="732.08" textLength="2.77" lengthAdjust="spacingAndGlyphs" font-size="11.22">l</tspan><tspan x="736.59" textLength="3.99" lengthAdjust="spacingAndGlyphs" font-size="11.22">d</tspan></text><text y="968.73" font-size="12.46"><tspan x="695.61" textLength="5.14" lengthAdjust="spacingAndGlyphs">M</tspan><tspan x="701.32" textLength="3.82" lengthAdjust="spacingAndGlyphs" font-size="11.22">e</tspan><tspan x="706.35" textLength="3.99" lengthAdjust="spacingAndGlyphs" font-size="11.22">d</tspan><tspan x="711.92" textLength="2.77" lengthAdjust="spacingAndGlyphs" font-size="11.22">i</tspan><tspan x="716.47" textLength="3.48" lengthAdjust="spacingAndGlyphs" font-size="11.22">a</tspan><tspan x="721.26" textLength="4.22" lengthAdjust="spacingAndGlyphs" font-size="11.22">n</tspan></text><text y="985.10" font-size="12.46"><tspan x="695.71" textLength="4.71" lengthAdjust="spacingAndGlyphs">R</tspan><tspan x="701.14" textLength="3.90" lengthAdjust="spacingAndGlyphs">F</tspan><tspan x="706.13" textLength="3.91" lengthAdjust="spacingAndGlyphs">L</tspan><tspan x="711.35" textLength="3.89" lengthAdjust="spacingAndGlyphs">A</tspan></text></g>
<g class="yl" transform="translate(617.25 802.47) rotate(-90)"><text font-size="13.19" letter-spacing="-1.22">F1</text></g>
<g class="yl" transform="translate(617.25 778.80) rotate(-90)"><text font-size="13.19" letter-spacing="1.04">Score</text></g>
</svg>
</body></html>
